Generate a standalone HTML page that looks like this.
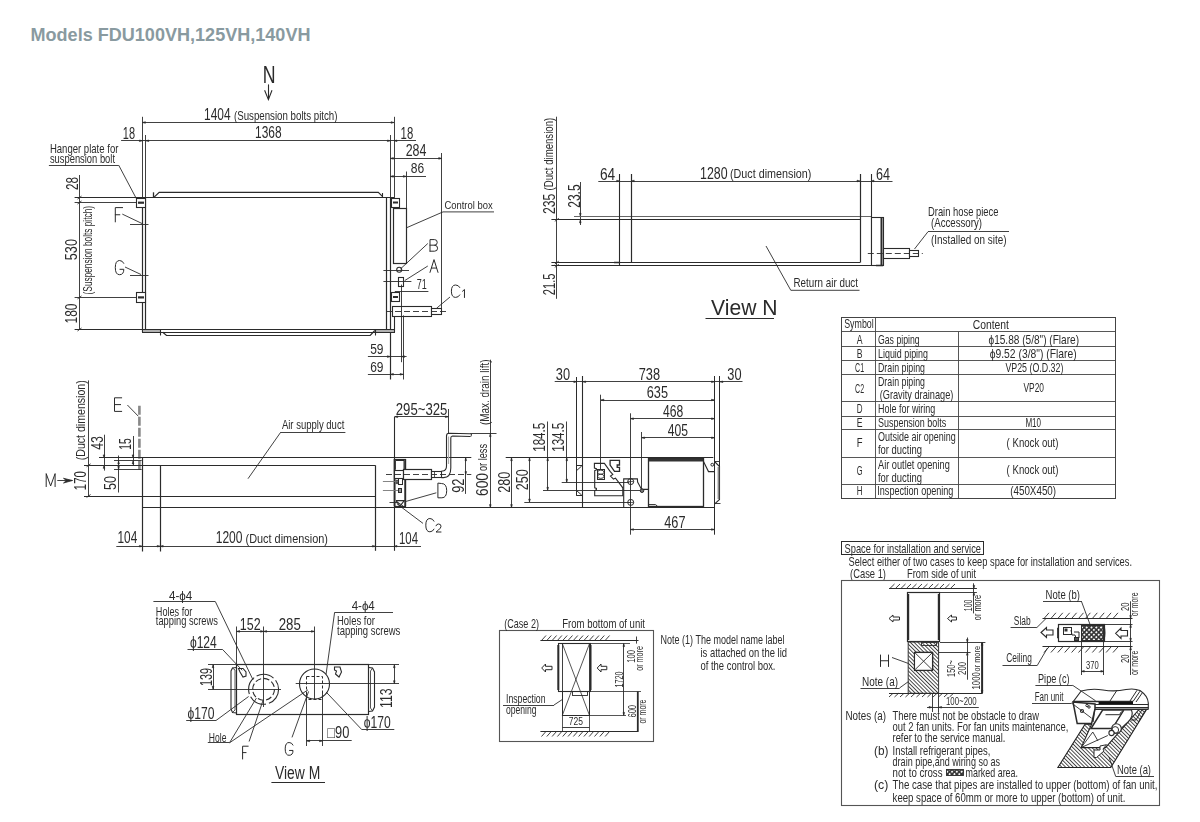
<!DOCTYPE html>
<html><head><meta charset="utf-8"><style>
html,body{margin:0;padding:0;background:#fff;width:1200px;height:822px;overflow:hidden}
svg{display:block}
.main{filter:grayscale(1)}
.ttl{position:absolute;left:0;top:0}
text{font-family:"Liberation Sans",sans-serif}
</style></head><body>
<svg class="main" width="1200" height="822" viewBox="0 0 1200 822" fill="none">
<rect x="0" y="0" width="1200" height="822" fill="#fff"/>
<text x="262.8" y="82.8" font-size="23" textLength="12.8" lengthAdjust="spacingAndGlyphs" fill="#2b2b2b" text-anchor="start">N</text>
<line x1="268.5" y1="84.4" x2="268.5" y2="99.4" stroke="#2b2b2b" stroke-width="1.1"/>
<polyline points="264.6,90.3 268.4,99.6 272,90.3" stroke="#2b2b2b" stroke-width="1.1" fill="none"/>
<line x1="142.4" y1="122.5" x2="394" y2="122.5" stroke="#2b2b2b" stroke-width="0.9"/>
<polygon points="145.4,121.7 142.4,122.5 145.4,123.3" stroke="#2b2b2b" stroke-width="0.6" fill="#2b2b2b"/>
<polygon points="391.0,121.7 394,122.5 391.0,123.3" stroke="#2b2b2b" stroke-width="0.6" fill="#2b2b2b"/>
<line x1="142.5" y1="116.8" x2="142.5" y2="197.6" stroke="#2b2b2b" stroke-width="0.9"/>
<line x1="394.5" y1="116.8" x2="394.5" y2="198" stroke="#2b2b2b" stroke-width="0.9"/>
<text x="204" y="120" font-size="16" textLength="26.5" lengthAdjust="spacingAndGlyphs" fill="#2b2b2b" text-anchor="start">1404</text>
<text x="234" y="119.5" font-size="12.2" textLength="103.5" lengthAdjust="spacingAndGlyphs" fill="#2b2b2b" text-anchor="start">(Suspension bolts pitch)</text>
<line x1="121.1" y1="140.5" x2="416" y2="140.5" stroke="#2b2b2b" stroke-width="0.9"/>
<polygon points="148.8,140.0 145.8,140.8 148.8,141.60000000000002" stroke="#2b2b2b" stroke-width="0.6" fill="#2b2b2b"/>
<polygon points="387.4,140.0 390.4,140.8 387.4,141.60000000000002" stroke="#2b2b2b" stroke-width="0.6" fill="#2b2b2b"/>
<polygon points="139.4,140.0 142.4,140.8 139.4,141.60000000000002" stroke="#2b2b2b" stroke-width="0.6" fill="#2b2b2b"/>
<polygon points="397.0,140.0 394,140.8 397.0,141.60000000000002" stroke="#2b2b2b" stroke-width="0.6" fill="#2b2b2b"/>
<line x1="145.5" y1="135" x2="145.5" y2="197.6" stroke="#2b2b2b" stroke-width="0.9"/>
<line x1="390.5" y1="135" x2="390.5" y2="197.6" stroke="#2b2b2b" stroke-width="0.9"/>
<text x="122.8" y="138.7" font-size="16" textLength="12.2" lengthAdjust="spacingAndGlyphs" fill="#2b2b2b" text-anchor="start">18</text>
<text x="255" y="138.3" font-size="16" textLength="26.5" lengthAdjust="spacingAndGlyphs" fill="#2b2b2b" text-anchor="start">1368</text>
<text x="400.6" y="138.7" font-size="16" textLength="12.6" lengthAdjust="spacingAndGlyphs" fill="#2b2b2b" text-anchor="start">18</text>
<line x1="390.4" y1="158.5" x2="441.7" y2="158.5" stroke="#2b2b2b" stroke-width="0.9"/>
<polygon points="393.4,157.6 390.4,158.4 393.4,159.20000000000002" stroke="#2b2b2b" stroke-width="0.6" fill="#2b2b2b"/>
<polygon points="438.7,157.6 441.7,158.4 438.7,159.20000000000002" stroke="#2b2b2b" stroke-width="0.6" fill="#2b2b2b"/>
<text x="405.7" y="156.2" font-size="16" textLength="20.7" lengthAdjust="spacingAndGlyphs" fill="#2b2b2b" text-anchor="start">284</text>
<line x1="390.4" y1="176.5" x2="426" y2="176.5" stroke="#2b2b2b" stroke-width="0.9"/>
<polygon points="393.4,175.6 390.4,176.4 393.4,177.20000000000002" stroke="#2b2b2b" stroke-width="0.6" fill="#2b2b2b"/>
<polygon points="403.3,175.6 406.3,176.4 403.3,177.20000000000002" stroke="#2b2b2b" stroke-width="0.6" fill="#2b2b2b"/>
<text x="410.8" y="173" font-size="15" textLength="13.4" lengthAdjust="spacingAndGlyphs" fill="#2b2b2b" text-anchor="start">86</text>
<line x1="406.5" y1="171.5" x2="406.5" y2="208.2" stroke="#2b2b2b" stroke-width="0.9"/>
<line x1="441.5" y1="153" x2="441.5" y2="314" stroke="#2b2b2b" stroke-width="0.9"/>
<line x1="142.5" y1="197.6" x2="142.5" y2="332.3" stroke="#2b2b2b" stroke-width="1.2"/>
<line x1="145.5" y1="197.6" x2="145.5" y2="329.5" stroke="#2b2b2b" stroke-width="1.2"/>
<line x1="74.6" y1="197.5" x2="394" y2="197.5" stroke="#2b2b2b" stroke-width="1.2"/>
<line x1="74.6" y1="202.5" x2="136.4" y2="202.5" stroke="#2b2b2b" stroke-width="0.9"/>
<polyline points="153.6,197.6 159.2,192.4 378.3,192.4 382.4,196.4" stroke="#2b2b2b" stroke-width="1.2" fill="none"/>
<line x1="153.5" y1="192.3" x2="153.5" y2="197.5" stroke="#2b2b2b" stroke-width="1.3"/>
<line x1="382.5" y1="193" x2="382.5" y2="197.5" stroke="#2b2b2b" stroke-width="1.1"/>
<line x1="386.5" y1="197.6" x2="386.5" y2="329.5" stroke="#2b2b2b" stroke-width="1.2"/>
<line x1="390.5" y1="197.6" x2="390.5" y2="379.5" stroke="#2b2b2b" stroke-width="1.2"/>
<line x1="74.6" y1="329.5" x2="394.5" y2="329.5" stroke="#2b2b2b" stroke-width="1.2"/>
<rect x="142.5" y="329.5" width="18.0" height="3.0" stroke="#2b2b2b" stroke-width="1.0" fill="#b0b0b0"/>
<rect x="375.5" y="329.5" width="19.0" height="3.0" stroke="#2b2b2b" stroke-width="1.0" fill="#b0b0b0"/>
<line x1="142.3" y1="332.5" x2="394.5" y2="332.5" stroke="#2b2b2b" stroke-width="1.0"/>
<line x1="394.5" y1="314.8" x2="394.5" y2="332.1" stroke="#2b2b2b" stroke-width="1.1"/>
<line x1="160.5" y1="330" x2="160.5" y2="335.5" stroke="#2b2b2b" stroke-width="1.1"/>
<line x1="375.5" y1="329.8" x2="375.5" y2="335.5" stroke="#2b2b2b" stroke-width="1.1"/>
<polyline points="162.8,332.3 166.5,335.5 370.2,335.5 374.8,330.5" stroke="#2b2b2b" stroke-width="1.2" fill="none"/>
<rect x="136.5" y="198.5" width="9.0" height="9.0" stroke="#2b2b2b" stroke-width="1.1" fill="#fff"/>
<rect x="136.5" y="292.5" width="9.0" height="10.0" stroke="#2b2b2b" stroke-width="1.1" fill="#fff"/>
<rect x="391.5" y="198.5" width="8.0" height="9.0" stroke="#2b2b2b" stroke-width="1.1" fill="#fff"/>
<rect x="391.5" y="292.5" width="8.0" height="9.0" stroke="#2b2b2b" stroke-width="1.1" fill="#fff"/>
<line x1="138" y1="202.7" x2="144" y2="202.7" stroke="#2b2b2b" stroke-width="2.2"/>
<line x1="138" y1="297.4" x2="144" y2="297.4" stroke="#2b2b2b" stroke-width="2.2"/>
<line x1="393" y1="202.5" x2="398" y2="202.5" stroke="#2b2b2b" stroke-width="2.0"/>
<line x1="393" y1="297" x2="398" y2="297" stroke="#2b2b2b" stroke-width="2.0"/>
<line x1="74.6" y1="297.5" x2="136.4" y2="297.5" stroke="#2b2b2b" stroke-width="0.9"/>
<text x="49.9" y="152.6" font-size="12.2" textLength="68.5" lengthAdjust="spacingAndGlyphs" fill="#2b2b2b" text-anchor="start">Hanger plate for</text>
<text x="49.9" y="162.8" font-size="12.2" textLength="65.1" lengthAdjust="spacingAndGlyphs" fill="#2b2b2b" text-anchor="start">suspension bolt</text>
<line x1="48.9" y1="165.5" x2="118.7" y2="165.5" stroke="#2b2b2b" stroke-width="0.9"/>
<line x1="118.7" y1="165.2" x2="136.3" y2="198.5" stroke="#2b2b2b" stroke-width="0.9"/>
<line x1="79.5" y1="175" x2="79.5" y2="329.6" stroke="#2b2b2b" stroke-width="0.9"/>
<line x1="77.5" y1="199.1" x2="81.5" y2="196.1" stroke="#2b2b2b" stroke-width="0.9"/>
<line x1="77.5" y1="204.0" x2="81.5" y2="201.0" stroke="#2b2b2b" stroke-width="0.9"/>
<line x1="77.5" y1="298.9" x2="81.5" y2="295.9" stroke="#2b2b2b" stroke-width="0.9"/>
<line x1="77.5" y1="331.0" x2="81.5" y2="328.0" stroke="#2b2b2b" stroke-width="0.9"/>
<text transform="translate(77.5,190) rotate(-90)" font-size="17" textLength="13.0" lengthAdjust="spacingAndGlyphs" fill="#2b2b2b">28</text>
<text transform="translate(77.3,260.2) rotate(-90)" font-size="17" textLength="21.2" lengthAdjust="spacingAndGlyphs" fill="#2b2b2b">530</text>
<text transform="translate(91.5,294.4) rotate(-90)" font-size="12" textLength="88.4" lengthAdjust="spacingAndGlyphs" fill="#2b2b2b">(Suspension bolts pitch)</text>
<text transform="translate(77.3,323.5) rotate(-90)" font-size="17" textLength="20.0" lengthAdjust="spacingAndGlyphs" fill="#2b2b2b">180</text>
<path d="M 122.60,207.60 H 115.30 V 221.90 M 115.30,214.75 H 119.83" stroke="#2b2b2b" stroke-width="1.0" fill="none" stroke-linecap="round" stroke-linejoin="round"/>
<line x1="122.3" y1="214.1" x2="142" y2="223.5" stroke="#2b2b2b" stroke-width="0.9"/>
<line x1="130" y1="224.5" x2="148.5" y2="224.5" stroke="#2b2b2b" stroke-width="0.9"/>
<path d="M 123.80,263.34 Q 122.52,260.50 119.55,260.50 Q 115.30,260.50 115.30,267.60 Q 115.30,274.70 119.55,274.70 Q 123.80,274.70 123.80,269.30 H 119.97" stroke="#2b2b2b" stroke-width="1.0" fill="none" stroke-linecap="round" stroke-linejoin="round"/>
<line x1="125" y1="267" x2="141" y2="274.5" stroke="#2b2b2b" stroke-width="0.9"/>
<line x1="130" y1="275.5" x2="148.5" y2="275.5" stroke="#2b2b2b" stroke-width="0.9"/>
<rect x="393.5" y="208.5" width="13.0" height="55.0" stroke="#2b2b2b" stroke-width="1.2" fill="#fff"/>
<polyline points="406.7,227.7 443,211.9 494,211.9" stroke="#2b2b2b" stroke-width="0.9" fill="none"/>
<text x="444.4" y="208.8" font-size="11.5" textLength="48.2" lengthAdjust="spacingAndGlyphs" fill="#2b2b2b" text-anchor="start">Control box</text>
<path d="M 430.00,251.20 V 239.60 H 434.56 Q 437.22,239.60 437.22,242.38 Q 437.22,245.17 434.56,245.17 H 430.00 M 434.56,245.17 Q 437.60,245.17 437.60,248.18 Q 437.60,251.20 434.56,251.20 H 430.00" stroke="#2b2b2b" stroke-width="1.0" fill="none" stroke-linecap="round" stroke-linejoin="round"/>
<line x1="427.8" y1="243.5" x2="400.4" y2="269" stroke="#2b2b2b" stroke-width="0.9"/>
<circle cx="399.2" cy="269.8" r="2.5" stroke="#2b2b2b" stroke-width="1.1" fill="none"/>
<line x1="383.4" y1="270.5" x2="409" y2="270.5" stroke="#2b2b2b" stroke-width="0.9"/>
<path d="M 430.00,272.40 L 434.00,259.60 L 438.00,272.40 M 431.44,268.05 L 436.56,268.05" stroke="#2b2b2b" stroke-width="1.0" fill="none" stroke-linecap="round" stroke-linejoin="round"/>
<line x1="427.8" y1="266" x2="404.7" y2="280.6" stroke="#2b2b2b" stroke-width="0.9"/>
<rect x="398.5" y="277.5" width="5.0" height="9.0" stroke="#2b2b2b" stroke-width="1.1" fill="#fff"/>
<line x1="383.4" y1="281.5" x2="411.4" y2="281.5" stroke="#2b2b2b" stroke-width="0.9"/>
<text x="416.8" y="288.5" font-size="15" textLength="10.0" lengthAdjust="spacingAndGlyphs" fill="#2b2b2b" text-anchor="start">71</text>
<line x1="394.8" y1="291.5" x2="428.4" y2="291.5" stroke="#2b2b2b" stroke-width="0.9"/>
<path d="M 459.80,287.48 Q 458.54,285.00 455.60,285.00 Q 451.40,285.00 451.40,291.20 Q 451.40,297.40 455.60,297.40 Q 458.54,297.40 459.80,294.92" stroke="#2b2b2b" stroke-width="1.0" fill="none" stroke-linecap="round" stroke-linejoin="round"/>
<path d="M 462.50,291.26 L 464.46,289.50 V 297.50" stroke="#2b2b2b" stroke-width="1.0" fill="none" stroke-linecap="round" stroke-linejoin="round"/>
<line x1="450" y1="297" x2="436.5" y2="308.3" stroke="#2b2b2b" stroke-width="0.9"/>
<rect x="392.5" y="306.5" width="39.0" height="10.0" stroke="#2b2b2b" stroke-width="1.1" fill="#fff"/>
<rect x="431.5" y="308.5" width="10.0" height="6.0" stroke="#2b2b2b" stroke-width="1.1" fill="#fff"/>
<line x1="386" y1="311.5" x2="446" y2="311.5" stroke="#2b2b2b" stroke-width="0.9" stroke-dasharray="6,3"/>
<line x1="401.5" y1="284.6" x2="401.5" y2="362.2" stroke="#2b2b2b" stroke-width="0.9"/>
<line x1="403.5" y1="315.4" x2="403.5" y2="379.5" stroke="#2b2b2b" stroke-width="0.9"/>
<line x1="367.9" y1="356.5" x2="406.6" y2="356.5" stroke="#2b2b2b" stroke-width="0.9"/>
<polygon points="387.4,355.8 390.4,356.6 387.4,357.40000000000003" stroke="#2b2b2b" stroke-width="0.6" fill="#2b2b2b"/>
<polygon points="404.4,355.8 401.4,356.6 404.4,357.40000000000003" stroke="#2b2b2b" stroke-width="0.6" fill="#2b2b2b"/>
<line x1="367.9" y1="374.5" x2="403.7" y2="374.5" stroke="#2b2b2b" stroke-width="0.9"/>
<polygon points="393.4,373.5 390.4,374.3 393.4,375.1" stroke="#2b2b2b" stroke-width="0.6" fill="#2b2b2b"/>
<polygon points="400.1,373.5 403.1,374.3 400.1,375.1" stroke="#2b2b2b" stroke-width="0.6" fill="#2b2b2b"/>
<text x="370.2" y="354.1" font-size="15" textLength="13.3" lengthAdjust="spacingAndGlyphs" fill="#2b2b2b" text-anchor="start">59</text>
<text x="370.2" y="372" font-size="15" textLength="13.3" lengthAdjust="spacingAndGlyphs" fill="#2b2b2b" text-anchor="start">69</text>
<line x1="556.5" y1="116.7" x2="556.5" y2="298.8" stroke="#2b2b2b" stroke-width="0.9"/>
<line x1="554.8" y1="221.3" x2="558.8" y2="218.3" stroke="#2b2b2b" stroke-width="0.9"/>
<line x1="554.8" y1="264.1" x2="558.8" y2="261.1" stroke="#2b2b2b" stroke-width="0.9"/>
<line x1="554.8" y1="267.3" x2="558.8" y2="264.3" stroke="#2b2b2b" stroke-width="0.9"/>
<text transform="translate(555.3,214) rotate(-90)" font-size="17" textLength="20.3" lengthAdjust="spacingAndGlyphs" fill="#2b2b2b">235</text>
<text transform="translate(553.2,190.5) rotate(-90)" font-size="12" textLength="72.7" lengthAdjust="spacingAndGlyphs" fill="#2b2b2b">(Duct dimension)</text>
<text transform="translate(579.5,207.7) rotate(-90)" font-size="17" textLength="23.3" lengthAdjust="spacingAndGlyphs" fill="#2b2b2b">23.5</text>
<line x1="580.5" y1="182" x2="580.5" y2="225" stroke="#2b2b2b" stroke-width="0.9"/>
<polygon points="579.5,213.3 580.3,216.3 581.0999999999999,213.3" stroke="#2b2b2b" stroke-width="0.6" fill="#2b2b2b"/>
<polygon points="579.5,222.8 580.3,219.8 581.0999999999999,222.8" stroke="#2b2b2b" stroke-width="0.6" fill="#2b2b2b"/>
<text transform="translate(555.3,295.2) rotate(-90)" font-size="17" textLength="21.8" lengthAdjust="spacingAndGlyphs" fill="#2b2b2b">21.5</text>
<line x1="574" y1="216.5" x2="871" y2="216.5" stroke="#666" stroke-width="1.0"/>
<line x1="551.4" y1="219.5" x2="860" y2="219.5" stroke="#2b2b2b" stroke-width="1.2"/>
<line x1="551.4" y1="262.5" x2="860" y2="262.5" stroke="#2b2b2b" stroke-width="1.2"/>
<line x1="551.4" y1="265.5" x2="871" y2="265.5" stroke="#2b2b2b" stroke-width="1.2"/>
<line x1="619.5" y1="174" x2="619.5" y2="265.8" stroke="#2b2b2b" stroke-width="1.1"/>
<line x1="631.5" y1="174" x2="631.5" y2="262.6" stroke="#2b2b2b" stroke-width="1.2"/>
<line x1="860.5" y1="174" x2="860.5" y2="262.6" stroke="#2b2b2b" stroke-width="1.2"/>
<line x1="871.5" y1="174" x2="871.5" y2="266" stroke="#2b2b2b" stroke-width="1.1"/>
<line x1="614" y1="262.5" x2="619.7" y2="262.5" stroke="#2b2b2b" stroke-width="1.5"/>
<line x1="598.3" y1="181.5" x2="892.5" y2="181.5" stroke="#2b2b2b" stroke-width="0.9"/>
<polygon points="616.7,180.2 619.7,181 616.7,181.8" stroke="#2b2b2b" stroke-width="0.6" fill="#2b2b2b"/>
<polygon points="634.2,180.2 631.2,181 634.2,181.8" stroke="#2b2b2b" stroke-width="0.6" fill="#2b2b2b"/>
<polygon points="857.0,180.2 860,181 857.0,181.8" stroke="#2b2b2b" stroke-width="0.6" fill="#2b2b2b"/>
<polygon points="874.0,180.2 871,181 874.0,181.8" stroke="#2b2b2b" stroke-width="0.6" fill="#2b2b2b"/>
<text x="600" y="179.6" font-size="16" textLength="15.2" lengthAdjust="spacingAndGlyphs" fill="#2b2b2b" text-anchor="start">64</text>
<text x="700" y="178.9" font-size="16" textLength="27.5" lengthAdjust="spacingAndGlyphs" fill="#2b2b2b" text-anchor="start">1280</text>
<text x="730" y="178.3" font-size="12.2" textLength="81.4" lengthAdjust="spacingAndGlyphs" fill="#2b2b2b" text-anchor="start">(Duct dimension)</text>
<text x="876" y="179.6" font-size="16" textLength="14.0" lengthAdjust="spacingAndGlyphs" fill="#2b2b2b" text-anchor="start">64</text>
<rect x="871.5" y="217.5" width="12.0" height="48.0" stroke="#2b2b2b" stroke-width="1.1" fill="#fff"/>
<line x1="881.5" y1="218" x2="881.5" y2="265" stroke="#2b2b2b" stroke-width="2.0"/>
<line x1="876" y1="265.5" x2="883" y2="265.5" stroke="#2b2b2b" stroke-width="1.5"/>
<rect x="883.5" y="248.5" width="26.0" height="10.0" stroke="#2b2b2b" stroke-width="1.1" fill="#fff"/>
<rect x="909.5" y="250.5" width="9.0" height="6.0" stroke="#2b2b2b" stroke-width="1.1" fill="#fff"/>
<line x1="867.8" y1="253.5" x2="922.8" y2="253.5" stroke="#2b2b2b" stroke-width="0.9" stroke-dasharray="6,3"/>
<text x="928" y="216" font-size="12.2" textLength="70.4" lengthAdjust="spacingAndGlyphs" fill="#2b2b2b" text-anchor="start">Drain hose piece</text>
<text x="931" y="227.4" font-size="12.2" textLength="51.0" lengthAdjust="spacingAndGlyphs" fill="#2b2b2b" text-anchor="start">(Accessory)</text>
<line x1="928" y1="231.5" x2="1009" y2="231.5" stroke="#2b2b2b" stroke-width="0.9"/>
<line x1="928" y1="231.7" x2="914.5" y2="249" stroke="#2b2b2b" stroke-width="0.9"/>
<text x="931" y="244" font-size="12.2" textLength="75.6" lengthAdjust="spacingAndGlyphs" fill="#2b2b2b" text-anchor="start">(Installed on site)</text>
<polyline points="766,246 790.8,290.3 859.5,290.3" stroke="#2b2b2b" stroke-width="0.9" fill="none"/>
<text x="793.5" y="286.8" font-size="12.2" textLength="64.5" lengthAdjust="spacingAndGlyphs" fill="#2b2b2b" text-anchor="start">Return air duct</text>
<text x="711" y="314.5" font-size="22.5" textLength="66.5" lengthAdjust="spacingAndGlyphs" fill="#2b2b2b" text-anchor="start">View N</text>
<line x1="705.5" y1="318.5" x2="774" y2="318.5" stroke="#2b2b2b" stroke-width="1.2"/>
<rect x="841.5" y="317.5" width="274.0" height="181.0" stroke="#444" stroke-width="1.0" fill="none"/>
<line x1="841.8" y1="331.5" x2="1115.8" y2="331.5" stroke="#444" stroke-width="0.9"/>
<line x1="841.8" y1="346.5" x2="1115.8" y2="346.5" stroke="#444" stroke-width="0.9"/>
<line x1="841.8" y1="360.5" x2="1115.8" y2="360.5" stroke="#444" stroke-width="0.9"/>
<line x1="841.8" y1="374.5" x2="1115.8" y2="374.5" stroke="#444" stroke-width="0.9"/>
<line x1="841.8" y1="401.5" x2="1115.8" y2="401.5" stroke="#444" stroke-width="0.9"/>
<line x1="841.8" y1="416.5" x2="1115.8" y2="416.5" stroke="#444" stroke-width="0.9"/>
<line x1="841.8" y1="429.5" x2="1115.8" y2="429.5" stroke="#444" stroke-width="0.9"/>
<line x1="841.8" y1="457.5" x2="1115.8" y2="457.5" stroke="#444" stroke-width="0.9"/>
<line x1="841.8" y1="484.5" x2="1115.8" y2="484.5" stroke="#444" stroke-width="0.9"/>
<line x1="875.5" y1="317.7" x2="875.5" y2="498.2" stroke="#444" stroke-width="0.9"/>
<line x1="958.5" y1="331.7" x2="958.5" y2="498.2" stroke="#444" stroke-width="0.9"/>
<text x="844.2" y="328.1" font-size="12.2" textLength="29.5" lengthAdjust="spacingAndGlyphs" fill="#2b2b2b" text-anchor="start">Symbol</text>
<text x="972.7" y="329.3" font-size="12.2" textLength="36.3" lengthAdjust="spacingAndGlyphs" fill="#2b2b2b" text-anchor="start">Content</text>
<text x="856.7" y="344.3" font-size="12.2" textLength="5.8" lengthAdjust="spacingAndGlyphs" fill="#2b2b2b" text-anchor="start">A</text>
<text x="878" y="344.3" font-size="12.2" textLength="41.6" lengthAdjust="spacingAndGlyphs" fill="#2b2b2b" text-anchor="start">Gas piping</text>
<text x="988.5" y="344.3" font-size="12.2" textLength="90.5" lengthAdjust="spacingAndGlyphs" fill="#2b2b2b" text-anchor="start">ϕ15.88 (5/8") (Flare)</text>
<text x="856.7" y="358.3" font-size="12.2" textLength="5.8" lengthAdjust="spacingAndGlyphs" fill="#2b2b2b" text-anchor="start">B</text>
<text x="878" y="358.3" font-size="12.2" textLength="50.0" lengthAdjust="spacingAndGlyphs" fill="#2b2b2b" text-anchor="start">Liquid piping</text>
<text x="989.7" y="358.3" font-size="12.2" textLength="87.0" lengthAdjust="spacingAndGlyphs" fill="#2b2b2b" text-anchor="start">ϕ9.52 (3/8") (Flare)</text>
<text x="855.1" y="371.6" font-size="12.2" textLength="9.0" lengthAdjust="spacingAndGlyphs" fill="#2b2b2b" text-anchor="start">C1</text>
<text x="878" y="371.6" font-size="12.2" textLength="47.0" lengthAdjust="spacingAndGlyphs" fill="#2b2b2b" text-anchor="start">Drain piping</text>
<text x="1005.4" y="371.6" font-size="12.2" textLength="58.0" lengthAdjust="spacingAndGlyphs" fill="#2b2b2b" text-anchor="start">VP25 (O.D.32)</text>
<text x="855.1" y="393.4" font-size="12.2" textLength="9.0" lengthAdjust="spacingAndGlyphs" fill="#2b2b2b" text-anchor="start">C2</text>
<text x="878" y="386.1" font-size="12.2" textLength="47.0" lengthAdjust="spacingAndGlyphs" fill="#2b2b2b" text-anchor="start">Drain piping</text>
<text x="879.7" y="399.4" font-size="12.2" textLength="73.7" lengthAdjust="spacingAndGlyphs" fill="#2b2b2b" text-anchor="start">(Gravity drainage)</text>
<text x="1023.5" y="392.2" font-size="12.2" textLength="20.5" lengthAdjust="spacingAndGlyphs" fill="#2b2b2b" text-anchor="start">VP20</text>
<text x="856.7" y="413.1" font-size="12.2" textLength="5.8" lengthAdjust="spacingAndGlyphs" fill="#2b2b2b" text-anchor="start">D</text>
<text x="878" y="413.1" font-size="12.2" textLength="57.3" lengthAdjust="spacingAndGlyphs" fill="#2b2b2b" text-anchor="start">Hole for wiring</text>
<text x="856.7" y="427.1" font-size="12.2" textLength="5.8" lengthAdjust="spacingAndGlyphs" fill="#2b2b2b" text-anchor="start">E</text>
<text x="878" y="427.1" font-size="12.2" textLength="68.2" lengthAdjust="spacingAndGlyphs" fill="#2b2b2b" text-anchor="start">Suspension bolts</text>
<text x="1025.4" y="427.1" font-size="12.2" textLength="15.7" lengthAdjust="spacingAndGlyphs" fill="#2b2b2b" text-anchor="start">M10</text>
<text x="856.7" y="447" font-size="12.2" textLength="5.8" lengthAdjust="spacingAndGlyphs" fill="#2b2b2b" text-anchor="start">F</text>
<text x="878" y="440.9" font-size="12.2" textLength="77.8" lengthAdjust="spacingAndGlyphs" fill="#2b2b2b" text-anchor="start">Outside air opening</text>
<text x="878" y="454.2" font-size="12.2" textLength="44.0" lengthAdjust="spacingAndGlyphs" fill="#2b2b2b" text-anchor="start">for ducting</text>
<text x="1006.6" y="447" font-size="12.2" textLength="51.9" lengthAdjust="spacingAndGlyphs" fill="#2b2b2b" text-anchor="start">( Knock out)</text>
<text x="856.7" y="474.7" font-size="12.2" textLength="5.8" lengthAdjust="spacingAndGlyphs" fill="#2b2b2b" text-anchor="start">G</text>
<text x="878" y="468.7" font-size="12.2" textLength="71.8" lengthAdjust="spacingAndGlyphs" fill="#2b2b2b" text-anchor="start">Air outlet opening</text>
<text x="878" y="481.5" font-size="12.2" textLength="44.0" lengthAdjust="spacingAndGlyphs" fill="#2b2b2b" text-anchor="start">for ducting</text>
<text x="1006.6" y="474.3" font-size="12.2" textLength="51.9" lengthAdjust="spacingAndGlyphs" fill="#2b2b2b" text-anchor="start">( Knock out)</text>
<text x="856.7" y="495.3" font-size="12.2" textLength="5.8" lengthAdjust="spacingAndGlyphs" fill="#2b2b2b" text-anchor="start">H</text>
<text x="877.3" y="495.3" font-size="12.2" textLength="76.1" lengthAdjust="spacingAndGlyphs" fill="#2b2b2b" text-anchor="start">Inspection opening</text>
<text x="1010.2" y="494.6" font-size="12.2" textLength="45.9" lengthAdjust="spacingAndGlyphs" fill="#2b2b2b" text-anchor="start">(450X450)</text>
<line x1="88.5" y1="380.4" x2="88.5" y2="496" stroke="#2b2b2b" stroke-width="0.9"/>
<line x1="86.6" y1="466.8" x2="90.6" y2="463.8" stroke="#2b2b2b" stroke-width="0.9"/>
<line x1="86.6" y1="497.5" x2="90.6" y2="494.5" stroke="#2b2b2b" stroke-width="0.9"/>
<text transform="translate(85.3,460.2) rotate(-90)" font-size="12" textLength="79.9" lengthAdjust="spacingAndGlyphs" fill="#2b2b2b">(Duct dimension)</text>
<text transform="translate(86,490.2) rotate(-90)" font-size="17" textLength="19.0" lengthAdjust="spacingAndGlyphs" fill="#2b2b2b">170</text>
<text transform="translate(103,449.8) rotate(-90)" font-size="17" textLength="13.8" lengthAdjust="spacingAndGlyphs" fill="#2b2b2b">43</text>
<line x1="104.5" y1="434.7" x2="104.5" y2="470.6" stroke="#2b2b2b" stroke-width="0.9"/>
<polygon points="103.2,454.9 104,457.9 104.8,454.9" stroke="#2b2b2b" stroke-width="0.6" fill="#2b2b2b"/>
<polygon points="103.2,468.3 104,465.3 104.8,468.3" stroke="#2b2b2b" stroke-width="0.6" fill="#2b2b2b"/>
<text transform="translate(131,449.8) rotate(-90)" font-size="17" textLength="11.5" lengthAdjust="spacingAndGlyphs" fill="#2b2b2b">15</text>
<line x1="133.5" y1="436" x2="133.5" y2="466" stroke="#2b2b2b" stroke-width="0.9"/>
<polygon points="132.2,454.9 133,457.9 133.8,454.9" stroke="#2b2b2b" stroke-width="0.6" fill="#2b2b2b"/>
<polygon points="132.2,463.9 133,460.9 133.8,463.9" stroke="#2b2b2b" stroke-width="0.6" fill="#2b2b2b"/>
<text transform="translate(116,490) rotate(-90)" font-size="17" textLength="14.0" lengthAdjust="spacingAndGlyphs" fill="#2b2b2b">50</text>
<line x1="118.5" y1="455.5" x2="118.5" y2="492.5" stroke="#2b2b2b" stroke-width="0.9"/>
<polygon points="117.8,463.9 118.6,460.9 119.39999999999999,463.9" stroke="#2b2b2b" stroke-width="0.6" fill="#2b2b2b"/>
<polygon points="117.8,466.4 118.6,469.4 119.39999999999999,466.4" stroke="#2b2b2b" stroke-width="0.6" fill="#2b2b2b"/>
<path d="M 121.70,397.80 H 114.50 V 411.40 H 121.70 M 114.50,404.60 H 120.62" stroke="#2b2b2b" stroke-width="1.0" fill="none" stroke-linecap="round" stroke-linejoin="round"/>
<line x1="127.4" y1="405" x2="138.3" y2="416.2" stroke="#2b2b2b" stroke-width="0.9"/>
<line x1="139.4" y1="405.8" x2="139.4" y2="469.4" stroke="#888" stroke-width="2.6" stroke-dasharray="9,2"/>
<line x1="99" y1="457.5" x2="471.3" y2="457.5" stroke="#2b2b2b" stroke-width="1.2"/>
<line x1="114" y1="460.5" x2="141.7" y2="460.5" stroke="#2b2b2b" stroke-width="0.9"/>
<line x1="84" y1="465.5" x2="375.4" y2="465.5" stroke="#2b2b2b" stroke-width="1.2"/>
<line x1="114" y1="469.5" x2="141.7" y2="469.5" stroke="#2b2b2b" stroke-width="0.9"/>
<line x1="84" y1="496.5" x2="375.4" y2="496.5" stroke="#2b2b2b" stroke-width="1.2"/>
<line x1="142.4" y1="507.5" x2="714.5" y2="507.5" stroke="#2b2b2b" stroke-width="1.2"/>
<line x1="142.5" y1="457.9" x2="142.5" y2="551.5" stroke="#2b2b2b" stroke-width="1.2"/>
<line x1="160.5" y1="465.3" x2="160.5" y2="551.5" stroke="#2b2b2b" stroke-width="1.2"/>
<line x1="375.5" y1="465.3" x2="375.5" y2="550.8" stroke="#2b2b2b" stroke-width="1.2"/>
<line x1="394.5" y1="416.8" x2="394.5" y2="550.8" stroke="#2b2b2b" stroke-width="1.1"/>
<path d="M 46.20,486.60 V 473.60 L 50.65,485.95 L 55.10,473.60 V 486.60" stroke="#2b2b2b" stroke-width="1.0" fill="none" stroke-linecap="round" stroke-linejoin="round"/>
<line x1="57.3" y1="480.5" x2="72.4" y2="480.5" stroke="#2b2b2b" stroke-width="0.9"/>
<polygon points="63.5,478.3 72.5,480.5 63.5,483 66.5,480.5" stroke="#2b2b2b" stroke-width="0.8" fill="#2b2b2b"/>
<text x="117.5" y="543.4" font-size="16" textLength="19.7" lengthAdjust="spacingAndGlyphs" fill="#2b2b2b" text-anchor="start">104</text>
<line x1="116.3" y1="546.5" x2="160.2" y2="546.5" stroke="#2b2b2b" stroke-width="0.9"/>
<polygon points="139.4,545.4000000000001 142.4,546.2 139.4,547.0" stroke="#2b2b2b" stroke-width="0.6" fill="#2b2b2b"/>
<polygon points="163.2,545.4000000000001 160.2,546.2 163.2,547.0" stroke="#2b2b2b" stroke-width="0.6" fill="#2b2b2b"/>
<text x="215.7" y="543.4" font-size="16" textLength="26.8" lengthAdjust="spacingAndGlyphs" fill="#2b2b2b" text-anchor="start">1200</text>
<text x="245.5" y="543" font-size="12.2" textLength="82.5" lengthAdjust="spacingAndGlyphs" fill="#2b2b2b" text-anchor="start">(Duct dimension)</text>
<line x1="160.2" y1="546.5" x2="421" y2="546.5" stroke="#2b2b2b" stroke-width="0.9"/>
<polygon points="157.2,545.4000000000001 160.2,546.2 157.2,547.0" stroke="#2b2b2b" stroke-width="0.6" fill="#2b2b2b"/>
<polygon points="372.4,545.4000000000001 375.4,546.2 372.4,547.0" stroke="#2b2b2b" stroke-width="0.6" fill="#2b2b2b"/>
<polygon points="397.0,545.4000000000001 394,546.2 397.0,547.0" stroke="#2b2b2b" stroke-width="0.6" fill="#2b2b2b"/>
<text x="399" y="543.8" font-size="16" textLength="19.0" lengthAdjust="spacingAndGlyphs" fill="#2b2b2b" text-anchor="start">104</text>
<text x="281.9" y="429.3" font-size="12.2" textLength="62.4" lengthAdjust="spacingAndGlyphs" fill="#2b2b2b" text-anchor="start">Air supply duct</text>
<line x1="280.8" y1="432.5" x2="345.4" y2="432.5" stroke="#2b2b2b" stroke-width="0.9"/>
<line x1="280.8" y1="432.1" x2="248" y2="478.7" stroke="#2b2b2b" stroke-width="0.9"/>
<rect x="394.5" y="459.5" width="11.0" height="47.0" stroke="#2b2b2b" stroke-width="1.2" fill="#fff"/>
<line x1="394.6" y1="459" x2="394.6" y2="506" stroke="#2b2b2b" stroke-width="1.8"/>
<line x1="405.2" y1="459" x2="405.2" y2="506" stroke="#2b2b2b" stroke-width="1.8"/>
<polyline points="395.5,460.5 404,460.5 404,469.5" stroke="#2b2b2b" stroke-width="1.0" fill="none"/>
<line x1="395.5" y1="460.5" x2="395.5" y2="469.5" stroke="#2b2b2b" stroke-width="0.8"/>
<rect x="394.5" y="470.5" width="9.0" height="8.0" stroke="#2b2b2b" stroke-width="1.1" fill="#fff"/>
<rect x="395.5" y="479.8" width="2.8000000000000114" height="4.300000000000011" stroke="#2b2b2b" stroke-width="0" fill="#555"/>
<rect x="398.5" y="478.5" width="4.0" height="6.0" stroke="#2b2b2b" stroke-width="1.0" fill="none"/>
<rect x="398.5" y="488.5" width="3.0" height="4.0" stroke="#2b2b2b" stroke-width="1.0" fill="#999"/>
<line x1="382.9" y1="481.5" x2="398" y2="481.5" stroke="#777" stroke-width="0.9"/>
<line x1="382.9" y1="490.5" x2="398" y2="490.5" stroke="#777" stroke-width="0.9"/>
<line x1="389.5" y1="502.5" x2="398" y2="502.5" stroke="#2b2b2b" stroke-width="0.9"/>
<polyline points="396,500.6 404.3,500.6 400,506 396,500.6" stroke="#2b2b2b" stroke-width="1.1" fill="none"/>
<line x1="397.5" y1="502" x2="403" y2="506" stroke="#2b2b2b" stroke-width="0.9"/>
<rect x="403.5" y="469.5" width="28.0" height="10.0" stroke="#2b2b2b" stroke-width="1.2" fill="#fff"/>
<rect x="431.5" y="471.5" width="10.0" height="6.0" stroke="#2b2b2b" stroke-width="1.1" fill="#fff"/>
<line x1="434.5" y1="471" x2="434.5" y2="477.6" stroke="#2b2b2b" stroke-width="0.8"/>
<path d="M441.5,471 L443,471 Q446.5,470.5 446.5,466 L446.5,436 Q446.5,433.2 449,433.2 L470,433.8" stroke="#2b2b2b" stroke-width="1.1" fill="none"/>
<path d="M441.5,477.6 L443.5,477.6 Q450.8,477.6 450.8,468 L450.8,438 Q450.8,436 452.5,436 L470,436.5" stroke="#2b2b2b" stroke-width="1.1" fill="none"/>
<line x1="448.5" y1="436.5" x2="448.5" y2="464" stroke="#aaa" stroke-width="1.2"/>
<line x1="470" y1="433.6" x2="472" y2="434.8" stroke="#2b2b2b" stroke-width="0.9"/>
<line x1="470" y1="436.5" x2="472" y2="435.5" stroke="#2b2b2b" stroke-width="0.9"/>
<line x1="386" y1="474.5" x2="471.3" y2="474.5" stroke="#2b2b2b" stroke-width="0.9" stroke-dasharray="6,3"/>
<text x="395.8" y="415" font-size="16" textLength="51.6" lengthAdjust="spacingAndGlyphs" fill="#2b2b2b" text-anchor="start">295~325</text>
<line x1="394.7" y1="416.5" x2="448.3" y2="416.5" stroke="#2b2b2b" stroke-width="0.9"/>
<polygon points="397.7,416.0 394.7,416.8 397.7,417.6" stroke="#2b2b2b" stroke-width="0.6" fill="#2b2b2b"/>
<polygon points="445.3,416.0 448.3,416.8 445.3,417.6" stroke="#2b2b2b" stroke-width="0.6" fill="#2b2b2b"/>
<line x1="448.5" y1="409" x2="448.5" y2="434" stroke="#2b2b2b" stroke-width="0.9"/>
<text transform="translate(464,492.8) rotate(-90)" font-size="17" textLength="14.3" lengthAdjust="spacingAndGlyphs" fill="#2b2b2b">92</text>
<line x1="465.5" y1="457.7" x2="465.5" y2="493.9" stroke="#2b2b2b" stroke-width="0.9"/>
<polygon points="465.0,460.7 465.8,457.7 466.6,460.7" stroke="#2b2b2b" stroke-width="0.6" fill="#2b2b2b"/>
<polygon points="465.0,471.6 465.8,474.6 466.6,471.6" stroke="#2b2b2b" stroke-width="0.6" fill="#2b2b2b"/>
<path d="M 437.90,483.50 V 497.80 H 441.86 Q 446.70,497.80 446.70,490.65 Q 446.70,483.50 441.86,483.50 Z" stroke="#2b2b2b" stroke-width="1.0" fill="none" stroke-linecap="round" stroke-linejoin="round"/>
<line x1="436.3" y1="492.8" x2="405.6" y2="501.5" stroke="#2b2b2b" stroke-width="0.9"/>
<path d="M 434.00,521.16 Q 432.77,518.50 429.90,518.50 Q 425.80,518.50 425.80,525.15 Q 425.80,531.80 429.90,531.80 Q 432.77,531.80 434.00,529.14" stroke="#2b2b2b" stroke-width="1.0" fill="none" stroke-linecap="round" stroke-linejoin="round"/>
<path d="M 436.00,525.76 Q 436.50,524.00 438.50,524.00 Q 441.00,524.00 441.00,526.24 Q 441.00,528.00 438.50,530.00 L 436.00,532.00 H 441.00" stroke="#2b2b2b" stroke-width="1.0" fill="none" stroke-linecap="round" stroke-linejoin="round"/>
<line x1="423" y1="523.4" x2="396.8" y2="503.7" stroke="#2b2b2b" stroke-width="0.9"/>
<text transform="translate(488,496) rotate(-90)" font-size="17" textLength="23.0" lengthAdjust="spacingAndGlyphs" fill="#2b2b2b">600</text>
<text transform="translate(486.5,471) rotate(-90)" font-size="12" textLength="27.0" lengthAdjust="spacingAndGlyphs" fill="#2b2b2b">or less</text>
<text transform="translate(488.5,425) rotate(-90)" font-size="12" textLength="65.5" lengthAdjust="spacingAndGlyphs" fill="#2b2b2b">(Max. drain lift)</text>
<line x1="490.5" y1="359.7" x2="490.5" y2="507.6" stroke="#2b2b2b" stroke-width="0.9"/>
<polygon points="489.5,436.6 490.3,433.6 491.1,436.6" stroke="#2b2b2b" stroke-width="0.6" fill="#2b2b2b"/>
<polygon points="489.5,504.6 490.3,507.6 491.1,504.6" stroke="#2b2b2b" stroke-width="0.6" fill="#2b2b2b"/>
<line x1="470.2" y1="433.5" x2="496.5" y2="433.5" stroke="#2b2b2b" stroke-width="0.9"/>
<line x1="554.7" y1="381.5" x2="742.5" y2="381.5" stroke="#2b2b2b" stroke-width="0.9"/>
<polygon points="573.8,381.0 576.8,381.8 573.8,382.6" stroke="#2b2b2b" stroke-width="0.6" fill="#2b2b2b"/>
<polygon points="585.7,381.0 582.7,381.8 585.7,382.6" stroke="#2b2b2b" stroke-width="0.6" fill="#2b2b2b"/>
<polygon points="711.5,381.0 714.5,381.8 711.5,382.6" stroke="#2b2b2b" stroke-width="0.6" fill="#2b2b2b"/>
<polygon points="722.9,381.0 719.9,381.8 722.9,382.6" stroke="#2b2b2b" stroke-width="0.6" fill="#2b2b2b"/>
<text x="555.8" y="379.5" font-size="16" textLength="14.2" lengthAdjust="spacingAndGlyphs" fill="#2b2b2b" text-anchor="start">30</text>
<text x="638.7" y="379.5" font-size="16" textLength="21.3" lengthAdjust="spacingAndGlyphs" fill="#2b2b2b" text-anchor="start">738</text>
<text x="727.3" y="379.5" font-size="16" textLength="14.2" lengthAdjust="spacingAndGlyphs" fill="#2b2b2b" text-anchor="start">30</text>
<line x1="576.5" y1="377" x2="576.5" y2="495.8" stroke="#2b2b2b" stroke-width="1.0"/>
<line x1="582.5" y1="376" x2="582.5" y2="507.6" stroke="#2b2b2b" stroke-width="1.1"/>
<line x1="714.5" y1="376" x2="714.5" y2="534.7" stroke="#2b2b2b" stroke-width="1.0"/>
<line x1="719.5" y1="376" x2="719.5" y2="500" stroke="#2b2b2b" stroke-width="1.0"/>
<line x1="600.9" y1="400.5" x2="714.5" y2="400.5" stroke="#2b2b2b" stroke-width="0.9"/>
<polygon points="603.9,399.2 600.9,400 603.9,400.8" stroke="#2b2b2b" stroke-width="0.6" fill="#2b2b2b"/>
<polygon points="711.5,399.2 714.5,400 711.5,400.8" stroke="#2b2b2b" stroke-width="0.6" fill="#2b2b2b"/>
<text x="646.8" y="398.2" font-size="16" textLength="21.2" lengthAdjust="spacingAndGlyphs" fill="#2b2b2b" text-anchor="start">635</text>
<line x1="600.5" y1="394.7" x2="600.5" y2="470" stroke="#2b2b2b" stroke-width="0.9"/>
<line x1="630.5" y1="418.5" x2="714.5" y2="418.5" stroke="#2b2b2b" stroke-width="0.9"/>
<polygon points="633.5,417.9 630.5,418.7 633.5,419.5" stroke="#2b2b2b" stroke-width="0.6" fill="#2b2b2b"/>
<polygon points="711.5,417.9 714.5,418.7 711.5,419.5" stroke="#2b2b2b" stroke-width="0.6" fill="#2b2b2b"/>
<text x="663" y="416.8" font-size="16" textLength="20.2" lengthAdjust="spacingAndGlyphs" fill="#2b2b2b" text-anchor="start">468</text>
<line x1="630.5" y1="413.3" x2="630.5" y2="534.7" stroke="#2b2b2b" stroke-width="0.9"/>
<line x1="641.7" y1="437.5" x2="714.5" y2="437.5" stroke="#2b2b2b" stroke-width="0.9"/>
<polygon points="644.7,437.0 641.7,437.8 644.7,438.6" stroke="#2b2b2b" stroke-width="0.6" fill="#2b2b2b"/>
<polygon points="711.5,437.0 714.5,437.8 711.5,438.6" stroke="#2b2b2b" stroke-width="0.6" fill="#2b2b2b"/>
<text x="667.8" y="435.5" font-size="16" textLength="20.2" lengthAdjust="spacingAndGlyphs" fill="#2b2b2b" text-anchor="start">405</text>
<line x1="641.5" y1="432" x2="641.5" y2="490.5" stroke="#2b2b2b" stroke-width="0.9"/>
<line x1="505.7" y1="457.5" x2="713.3" y2="457.5" stroke="#2b2b2b" stroke-width="1.1"/>
<text transform="translate(545,451.8) rotate(-90)" font-size="17" textLength="29.0" lengthAdjust="spacingAndGlyphs" fill="#2b2b2b">184.5</text>
<line x1="547.5" y1="421.5" x2="547.5" y2="490.3" stroke="#2b2b2b" stroke-width="0.9"/>
<polygon points="546.9000000000001,460.7 547.7,457.7 548.5,460.7" stroke="#2b2b2b" stroke-width="0.6" fill="#2b2b2b"/>
<polygon points="546.9000000000001,487.3 547.7,490.3 548.5,487.3" stroke="#2b2b2b" stroke-width="0.6" fill="#2b2b2b"/>
<text transform="translate(563.5,451.8) rotate(-90)" font-size="17" textLength="29.0" lengthAdjust="spacingAndGlyphs" fill="#2b2b2b">134.5</text>
<line x1="566.5" y1="421.5" x2="566.5" y2="482.2" stroke="#2b2b2b" stroke-width="0.9"/>
<polygon points="566.0,460.7 566.8,457.7 567.5999999999999,460.7" stroke="#2b2b2b" stroke-width="0.6" fill="#2b2b2b"/>
<polygon points="566.0,479.2 566.8,482.2 567.5999999999999,479.2" stroke="#2b2b2b" stroke-width="0.6" fill="#2b2b2b"/>
<text transform="translate(527.5,490.3) rotate(-90)" font-size="17" textLength="21.0" lengthAdjust="spacingAndGlyphs" fill="#2b2b2b">250</text>
<line x1="529.5" y1="457.7" x2="529.5" y2="502" stroke="#2b2b2b" stroke-width="0.9"/>
<polygon points="528.7,460.7 529.5,457.7 530.3,460.7" stroke="#2b2b2b" stroke-width="0.6" fill="#2b2b2b"/>
<polygon points="528.7,499.0 529.5,502 530.3,499.0" stroke="#2b2b2b" stroke-width="0.6" fill="#2b2b2b"/>
<text transform="translate(510,492.7) rotate(-90)" font-size="17" textLength="21.0" lengthAdjust="spacingAndGlyphs" fill="#2b2b2b">280</text>
<line x1="511.5" y1="457.7" x2="511.5" y2="507.6" stroke="#2b2b2b" stroke-width="0.9"/>
<polygon points="510.7,460.7 511.5,457.7 512.3,460.7" stroke="#2b2b2b" stroke-width="0.6" fill="#2b2b2b"/>
<polygon points="510.7,504.6 511.5,507.6 512.3,504.6" stroke="#2b2b2b" stroke-width="0.6" fill="#2b2b2b"/>
<line x1="561.7" y1="482.5" x2="629.3" y2="482.5" stroke="#2b2b2b" stroke-width="0.9"/>
<line x1="543" y1="490.5" x2="643.3" y2="490.5" stroke="#2b2b2b" stroke-width="0.9"/>
<line x1="524.3" y1="502.5" x2="630.5" y2="502.5" stroke="#2b2b2b" stroke-width="0.9"/>
<text x="664.3" y="527.7" font-size="16" textLength="21.2" lengthAdjust="spacingAndGlyphs" fill="#2b2b2b" text-anchor="start">467</text>
<line x1="630.5" y1="529.5" x2="714.5" y2="529.5" stroke="#2b2b2b" stroke-width="0.9"/>
<polygon points="633.5,528.7 630.5,529.5 633.5,530.3" stroke="#2b2b2b" stroke-width="0.6" fill="#2b2b2b"/>
<polygon points="711.5,528.7 714.5,529.5 711.5,530.3" stroke="#2b2b2b" stroke-width="0.6" fill="#2b2b2b"/>
<line x1="576.5" y1="465.5" x2="582" y2="465.5" stroke="#2b2b2b" stroke-width="1.0"/>
<line x1="576.5" y1="470.7" x2="581.7" y2="466" stroke="#2b2b2b" stroke-width="1.0"/>
<line x1="576.5" y1="490.5" x2="581.7" y2="495.1" stroke="#2b2b2b" stroke-width="1.0"/>
<line x1="576.5" y1="495.5" x2="582" y2="495.5" stroke="#2b2b2b" stroke-width="1.0"/>
<polygon points="594.4,463.4 604.4,463.4 610.1,471.4 612.8,474.4 610.5,476.1 613.5,479.1 615.5,478.1 622.8,487.8 622.8,495.8 594.7,495.8 594.7,490.5 596.4,489.8 596.4,488.4 594.7,487.8 594.7,470.7 596.4,470 596.4,468.7 594.4,468" stroke="#2b2b2b" stroke-width="1.1" fill="none"/>
<polygon points="610.1,460.4 619.5,460.4 619.5,465 617.2,465 617.2,467.4 619.5,467.4 619.5,471.4 614.5,471.4 610.1,465" stroke="#2b2b2b" stroke-width="1.3" fill="none"/>
<rect x="597.5" y="469.5" width="7.0" height="10.0" stroke="#2b2b2b" stroke-width="1.0" fill="none"/>
<ellipse cx="600.8" cy="472.2" rx="3.2" ry="2.1" stroke="#2b2b2b" stroke-width="0.9"/><ellipse cx="600.8" cy="476.3" rx="3.2" ry="2.1" stroke="#2b2b2b" stroke-width="0.9"/>
<polyline points="623.7,507.6 623.7,478.9 637.4,478.9 637.6,482 639.5,485.5 641.1,488.5 643,489.4 648,489.4" stroke="#2b2b2b" stroke-width="1.1" fill="none"/>
<circle cx="630.7" cy="481.6" r="3" stroke="#2b2b2b" stroke-width="1.0" fill="none"/>
<line x1="627.7" y1="481.5" x2="633.7" y2="481.5" stroke="#2b2b2b" stroke-width="0.7"/>
<line x1="630.5" y1="478.6" x2="630.5" y2="484.6" stroke="#2b2b2b" stroke-width="0.7"/>
<circle cx="630.7" cy="502.4" r="3" stroke="#2b2b2b" stroke-width="1.0" fill="none"/>
<line x1="627.7" y1="502.5" x2="633.7" y2="502.5" stroke="#2b2b2b" stroke-width="0.7"/>
<line x1="630.5" y1="499.4" x2="630.5" y2="505.4" stroke="#2b2b2b" stroke-width="0.7"/>
<circle cx="642" cy="490.7" r="1.8" stroke="#2b2b2b" stroke-width="1.0" fill="#777"/>
<rect x="648.5" y="458.5" width="55.0" height="48.0" stroke="#2b2b2b" stroke-width="1.3" fill="none"/>
<line x1="648.6" y1="460" x2="703.2" y2="460" stroke="#333" stroke-width="2.8"/>
<polyline points="648.5,504.6 655.5,504.6 657.5,506.2" stroke="#2b2b2b" stroke-width="1.0" fill="none"/>
<polyline points="703.5,461.5 708.5,471.6 714.5,471.6" stroke="#2b2b2b" stroke-width="1.1" fill="none"/>
<circle cx="712.3" cy="464.7" r="1.4" stroke="#2b2b2b" stroke-width="1.0" fill="none"/>
<polyline points="714.5,461.5 719.5,466.5 719.5,499.5 714.5,504.1" stroke="#2b2b2b" stroke-width="1.1" fill="none"/>
<line x1="718.4" y1="467" x2="718.4" y2="499" stroke="#888" stroke-width="1.6"/>
<line x1="714.5" y1="461.5" x2="720" y2="461.5" stroke="#2b2b2b" stroke-width="0.9"/>
<line x1="714.5" y1="503.5" x2="720.5" y2="503.5" stroke="#2b2b2b" stroke-width="0.9"/>
<rect x="236.5" y="664.5" width="132.0" height="50.0" stroke="#2b2b2b" stroke-width="1.2" fill="none"/>
<polyline points="236.6,667.5 232.5,668 231,671 231,709 232.5,712.5 236.6,713" stroke="#2b2b2b" stroke-width="1.1" fill="none"/>
<polyline points="232.5,668 235,670 235,710 232.5,712.5" stroke="#2b2b2b" stroke-width="0.8" fill="none"/>
<polyline points="368.7,667.5 372.5,668 374.5,672 374.5,707 372.5,711 368.7,711.5" stroke="#2b2b2b" stroke-width="1.1" fill="none"/>
<polyline points="372.5,668 370.5,671 370.5,708 372.5,711" stroke="#2b2b2b" stroke-width="0.8" fill="none"/>
<circle cx="263.6" cy="689.3" r="15" stroke="#2b2b2b" stroke-width="1.1" fill="none" stroke-dasharray="18,3"/>
<circle cx="263.6" cy="689.3" r="10.9" stroke="#2b2b2b" stroke-width="1.1" fill="none" stroke-dasharray="6,2.5"/>
<circle cx="314.5" cy="684" r="15" stroke="#2b2b2b" stroke-width="1.1" fill="none"/>
<rect x="306.5" y="676.5" width="16.0" height="23.0" stroke="#2b2b2b" stroke-width="1.0" fill="none" stroke-dasharray="3,2"/>
<path d="M238.5,668.5 L243,668.5 L246,672 L246,676 L243,677 L240,672 Z" stroke="#2b2b2b" stroke-width="1.1" fill="none"/>
<path d="M334.5,667 L340,667 L341.5,672 L339,677 L335.5,674 L336.5,671 L334.5,670 Z" stroke="#2b2b2b" stroke-width="1.1" fill="none"/>
<line x1="236.6" y1="631.5" x2="314.4" y2="631.5" stroke="#2b2b2b" stroke-width="0.9"/>
<polygon points="239.6,630.6 236.6,631.4 239.6,632.1999999999999" stroke="#2b2b2b" stroke-width="0.6" fill="#2b2b2b"/>
<polygon points="260.6,630.6 263.6,631.4 260.6,632.1999999999999" stroke="#2b2b2b" stroke-width="0.6" fill="#2b2b2b"/>
<polygon points="266.6,630.6 263.6,631.4 266.6,632.1999999999999" stroke="#2b2b2b" stroke-width="0.6" fill="#2b2b2b"/>
<polygon points="311.4,630.6 314.4,631.4 311.4,632.1999999999999" stroke="#2b2b2b" stroke-width="0.6" fill="#2b2b2b"/>
<line x1="236.5" y1="626.5" x2="236.5" y2="664.7" stroke="#2b2b2b" stroke-width="0.9"/>
<line x1="263.5" y1="626.5" x2="263.5" y2="707" stroke="#2b2b2b" stroke-width="0.9"/>
<line x1="314.5" y1="626.5" x2="314.5" y2="700" stroke="#2b2b2b" stroke-width="0.9"/>
<text x="239.8" y="630" font-size="16" textLength="20.8" lengthAdjust="spacingAndGlyphs" fill="#2b2b2b" text-anchor="start">152</text>
<text x="278.7" y="630" font-size="16" textLength="22.1" lengthAdjust="spacingAndGlyphs" fill="#2b2b2b" text-anchor="start">285</text>
<text x="169" y="599.7" font-size="12.2" textLength="23.3" lengthAdjust="spacingAndGlyphs" fill="#2b2b2b" text-anchor="start">4-ϕ4</text>
<line x1="153.4" y1="601.5" x2="215.4" y2="601.5" stroke="#2b2b2b" stroke-width="0.9"/>
<line x1="215.4" y1="601.7" x2="253.1" y2="680" stroke="#2b2b2b" stroke-width="0.9"/>
<text x="155.8" y="615.5" font-size="12.2" textLength="36.5" lengthAdjust="spacingAndGlyphs" fill="#2b2b2b" text-anchor="start">Holes for</text>
<text x="155.8" y="625.3" font-size="12.2" textLength="62.1" lengthAdjust="spacingAndGlyphs" fill="#2b2b2b" text-anchor="start">tapping screws</text>
<text x="189.9" y="648.4" font-size="16" textLength="26.9" lengthAdjust="spacingAndGlyphs" fill="#2b2b2b" text-anchor="start">ϕ124</text>
<line x1="187.5" y1="649.5" x2="222.7" y2="649.5" stroke="#2b2b2b" stroke-width="0.9"/>
<line x1="222.7" y1="649.6" x2="242.2" y2="670.3" stroke="#2b2b2b" stroke-width="0.9"/>
<text transform="translate(211.8,686) rotate(-90)" font-size="17" textLength="18.1" lengthAdjust="spacingAndGlyphs" fill="#2b2b2b">139</text>
<line x1="213.5" y1="664.7" x2="213.5" y2="689.3" stroke="#2b2b2b" stroke-width="0.9"/>
<polygon points="212.2,667.7 213,664.7 213.8,667.7" stroke="#2b2b2b" stroke-width="0.6" fill="#2b2b2b"/>
<polygon points="212.2,686.3 213,689.3 213.8,686.3" stroke="#2b2b2b" stroke-width="0.6" fill="#2b2b2b"/>
<line x1="208" y1="664.5" x2="236.6" y2="664.5" stroke="#2b2b2b" stroke-width="0.9"/>
<line x1="208" y1="689.5" x2="281" y2="689.5" stroke="#2b2b2b" stroke-width="0.9"/>
<text x="187.4" y="719" font-size="16" textLength="27.0" lengthAdjust="spacingAndGlyphs" fill="#2b2b2b" text-anchor="start">ϕ170</text>
<line x1="186.2" y1="720.5" x2="216" y2="720.5" stroke="#2b2b2b" stroke-width="0.9"/>
<line x1="216" y1="720.5" x2="248.6" y2="696.5" stroke="#2b2b2b" stroke-width="0.9"/>
<text x="208.8" y="741.6" font-size="12.5" textLength="17.6" lengthAdjust="spacingAndGlyphs" fill="#2b2b2b" text-anchor="start">Hole</text>
<line x1="207.8" y1="742.5" x2="229.5" y2="742.5" stroke="#2b2b2b" stroke-width="0.9"/>
<line x1="229.5" y1="742.8" x2="256.4" y2="698.1" stroke="#2b2b2b" stroke-width="0.9"/>
<line x1="229.5" y1="742.8" x2="308" y2="689.8" stroke="#2b2b2b" stroke-width="0.9"/>
<path d="M 248.20,746.20 H 242.60 V 759.00 M 242.60,752.60 H 246.07" stroke="#2b2b2b" stroke-width="1.0" fill="none" stroke-linecap="round" stroke-linejoin="round"/>
<line x1="249.1" y1="741.5" x2="263.1" y2="700.2" stroke="#2b2b2b" stroke-width="0.9"/>
<path d="M 293.00,745.06 Q 291.83,742.50 289.10,742.50 Q 285.20,742.50 285.20,748.90 Q 285.20,755.30 289.10,755.30 Q 293.00,755.30 293.00,750.44 H 289.49" stroke="#2b2b2b" stroke-width="1.0" fill="none" stroke-linecap="round" stroke-linejoin="round"/>
<line x1="292" y1="737.4" x2="308.6" y2="691.4" stroke="#2b2b2b" stroke-width="0.9"/>
<text x="275" y="778.6" font-size="18" textLength="45.3" lengthAdjust="spacingAndGlyphs" fill="#2b2b2b" text-anchor="start">View M</text>
<line x1="271.4" y1="782.5" x2="325" y2="782.5" stroke="#2b2b2b" stroke-width="1.2"/>
<text x="351.7" y="609.5" font-size="12.2" textLength="23.1" lengthAdjust="spacingAndGlyphs" fill="#2b2b2b" text-anchor="start">4-ϕ4</text>
<line x1="334.6" y1="612.5" x2="393" y2="612.5" stroke="#2b2b2b" stroke-width="0.9"/>
<line x1="334.6" y1="612.4" x2="326.1" y2="674" stroke="#2b2b2b" stroke-width="0.9"/>
<text x="337" y="625.3" font-size="12.2" textLength="37.8" lengthAdjust="spacingAndGlyphs" fill="#2b2b2b" text-anchor="start">Holes for</text>
<text x="337" y="635.2" font-size="12.2" textLength="63.3" lengthAdjust="spacingAndGlyphs" fill="#2b2b2b" text-anchor="start">tapping screws</text>
<text transform="translate(391.5,708) rotate(-90)" font-size="17" textLength="19.5" lengthAdjust="spacingAndGlyphs" fill="#2b2b2b">113</text>
<line x1="394.5" y1="664.7" x2="394.5" y2="683.7" stroke="#2b2b2b" stroke-width="0.9"/>
<polygon points="393.5,667.7 394.3,664.7 395.1,667.7" stroke="#2b2b2b" stroke-width="0.6" fill="#2b2b2b"/>
<polygon points="393.5,680.7 394.3,683.7 395.1,680.7" stroke="#2b2b2b" stroke-width="0.6" fill="#2b2b2b"/>
<line x1="368.7" y1="664.5" x2="399" y2="664.5" stroke="#2b2b2b" stroke-width="0.9"/>
<line x1="295.7" y1="683.5" x2="399" y2="683.5" stroke="#2b2b2b" stroke-width="0.9"/>
<text x="363.8" y="727.5" font-size="16" textLength="27.0" lengthAdjust="spacingAndGlyphs" fill="#2b2b2b" text-anchor="start">ϕ170</text>
<line x1="361.4" y1="729.5" x2="394.3" y2="729.5" stroke="#2b2b2b" stroke-width="0.9"/>
<line x1="361.4" y1="729.2" x2="326.1" y2="692" stroke="#2b2b2b" stroke-width="0.9"/>
<text x="327.3" y="738.4" font-size="16" textLength="22.1" lengthAdjust="spacingAndGlyphs" fill="#2b2b2b" text-anchor="start">□90</text>
<line x1="306.7" y1="740.5" x2="351.7" y2="740.5" stroke="#2b2b2b" stroke-width="0.9"/>
<polygon points="309.7,740.1 306.7,740.9 309.7,741.6999999999999" stroke="#2b2b2b" stroke-width="0.6" fill="#2b2b2b"/>
<polygon points="319.5,740.1 322.5,740.9 319.5,741.6999999999999" stroke="#2b2b2b" stroke-width="0.6" fill="#2b2b2b"/>
<line x1="306.5" y1="692" x2="306.5" y2="746" stroke="#2b2b2b" stroke-width="0.9"/>
<line x1="322.5" y1="692" x2="322.5" y2="746" stroke="#2b2b2b" stroke-width="0.9"/>
<rect x="499.5" y="630.5" width="154.0" height="111.0" stroke="#555" stroke-width="1.1" fill="none"/>
<text x="504.2" y="627.8" font-size="12.2" textLength="34.8" lengthAdjust="spacingAndGlyphs" fill="#2b2b2b" text-anchor="start">(Case 2)</text>
<text x="562.3" y="627.8" font-size="12.2" textLength="82.7" lengthAdjust="spacingAndGlyphs" fill="#2b2b2b" text-anchor="start">From bottom of unit</text>
<line x1="540.4" y1="640.5" x2="638.5" y2="640.5" stroke="#2b2b2b" stroke-width="1.0"/>
<line x1="541.5" y1="640.5" x2="546.0" y2="635.5" stroke="#2b2b2b" stroke-width="0.9"/>
<line x1="546.8" y1="640.5" x2="551.3" y2="635.5" stroke="#2b2b2b" stroke-width="0.9"/>
<line x1="552.1" y1="640.5" x2="556.6" y2="635.5" stroke="#2b2b2b" stroke-width="0.9"/>
<line x1="557.4" y1="640.5" x2="561.9" y2="635.5" stroke="#2b2b2b" stroke-width="0.9"/>
<line x1="562.7" y1="640.5" x2="567.2" y2="635.5" stroke="#2b2b2b" stroke-width="0.9"/>
<line x1="568.0" y1="640.5" x2="572.5" y2="635.5" stroke="#2b2b2b" stroke-width="0.9"/>
<line x1="573.3" y1="640.5" x2="577.8" y2="635.5" stroke="#2b2b2b" stroke-width="0.9"/>
<line x1="578.6" y1="640.5" x2="583.1" y2="635.5" stroke="#2b2b2b" stroke-width="0.9"/>
<line x1="583.9" y1="640.5" x2="588.4" y2="635.5" stroke="#2b2b2b" stroke-width="0.9"/>
<line x1="589.2" y1="640.5" x2="593.7" y2="635.5" stroke="#2b2b2b" stroke-width="0.9"/>
<line x1="594.5" y1="640.5" x2="599.0" y2="635.5" stroke="#2b2b2b" stroke-width="0.9"/>
<line x1="599.8" y1="640.5" x2="604.3" y2="635.5" stroke="#2b2b2b" stroke-width="0.9"/>
<line x1="605.1" y1="640.5" x2="609.6" y2="635.5" stroke="#2b2b2b" stroke-width="0.9"/>
<line x1="540.4" y1="731.5" x2="638.5" y2="731.5" stroke="#2b2b2b" stroke-width="1.0"/>
<line x1="541.5" y1="736.5" x2="546.0" y2="731.4" stroke="#2b2b2b" stroke-width="0.9"/>
<line x1="546.8" y1="736.5" x2="551.3" y2="731.4" stroke="#2b2b2b" stroke-width="0.9"/>
<line x1="552.1" y1="736.5" x2="556.6" y2="731.4" stroke="#2b2b2b" stroke-width="0.9"/>
<line x1="557.4" y1="736.5" x2="561.9" y2="731.4" stroke="#2b2b2b" stroke-width="0.9"/>
<line x1="562.7" y1="736.5" x2="567.2" y2="731.4" stroke="#2b2b2b" stroke-width="0.9"/>
<line x1="568.0" y1="736.5" x2="572.5" y2="731.4" stroke="#2b2b2b" stroke-width="0.9"/>
<line x1="573.3" y1="736.5" x2="577.8" y2="731.4" stroke="#2b2b2b" stroke-width="0.9"/>
<line x1="578.6" y1="736.5" x2="583.1" y2="731.4" stroke="#2b2b2b" stroke-width="0.9"/>
<line x1="583.9" y1="736.5" x2="588.4" y2="731.4" stroke="#2b2b2b" stroke-width="0.9"/>
<line x1="589.2" y1="736.5" x2="593.7" y2="731.4" stroke="#2b2b2b" stroke-width="0.9"/>
<line x1="594.5" y1="736.5" x2="599.0" y2="731.4" stroke="#2b2b2b" stroke-width="0.9"/>
<line x1="599.8" y1="736.5" x2="604.3" y2="731.4" stroke="#2b2b2b" stroke-width="0.9"/>
<line x1="605.1" y1="736.5" x2="609.6" y2="731.4" stroke="#2b2b2b" stroke-width="0.9"/>
<rect x="558.5" y="643.5" width="32.0" height="48.0" stroke="#2b2b2b" stroke-width="1.1" fill="none"/>
<line x1="558.3" y1="645" x2="558.3" y2="690" stroke="#2b2b2b" stroke-width="2.0"/>
<line x1="590.6" y1="645" x2="590.6" y2="690" stroke="#2b2b2b" stroke-width="1.8"/>
<line x1="562.5" y1="643.6" x2="562.5" y2="691.2" stroke="#2b2b2b" stroke-width="0.9"/>
<line x1="589.5" y1="643.6" x2="589.5" y2="691.2" stroke="#2b2b2b" stroke-width="0.9"/>
<rect x="562.5" y="691.5" width="27.0" height="24.0" stroke="#2b2b2b" stroke-width="1.0" fill="none"/>
<line x1="562.3" y1="643.6" x2="589.5" y2="715.4" stroke="#2b2b2b" stroke-width="0.8"/>
<line x1="589.5" y1="643.6" x2="562.3" y2="715.4" stroke="#2b2b2b" stroke-width="0.8"/>
<rect x="572.5" y="691.5" width="15.0" height="4.0" stroke="#2b2b2b" stroke-width="0.9" fill="none"/>
<path d="M541.7,668 L545.5,664 L545.5,666.3 L552,666.3 L552,669.7 L545.5,669.7 L545.5,672 Z" stroke="#2b2b2b" stroke-width="1.0" fill="none"/>
<path d="M597.2,668 L601,664 L601,666.3 L606.8,666.3 L606.8,669.7 L601,669.7 L601,672 Z" stroke="#2b2b2b" stroke-width="1.0" fill="none"/>
<text transform="translate(623.2,687.5) rotate(-90)" font-size="11.5" textLength="16.1" lengthAdjust="spacingAndGlyphs" fill="#2b2b2b">1720</text>
<line x1="623.5" y1="643.6" x2="623.5" y2="715.4" stroke="#2b2b2b" stroke-width="0.9"/>
<polygon points="623.0,646.6 623.8,643.6 624.5999999999999,646.6" stroke="#2b2b2b" stroke-width="0.6" fill="#2b2b2b"/>
<polygon points="623.0,712.4 623.8,715.4 624.5999999999999,712.4" stroke="#2b2b2b" stroke-width="0.6" fill="#2b2b2b"/>
<line x1="590.7" y1="643.5" x2="630" y2="643.5" stroke="#2b2b2b" stroke-width="0.8"/>
<line x1="589.5" y1="715.5" x2="626" y2="715.5" stroke="#2b2b2b" stroke-width="0.8"/>
<line x1="589.5" y1="691.5" x2="641" y2="691.5" stroke="#2b2b2b" stroke-width="0.8"/>
<text transform="translate(635,662.8) rotate(-90)" font-size="11.5" textLength="12.8" lengthAdjust="spacingAndGlyphs" fill="#2b2b2b">100</text>
<text transform="translate(643.3,670.8) rotate(-90)" font-size="10" textLength="24.8" lengthAdjust="spacingAndGlyphs" fill="#2b2b2b">or more</text>
<line x1="636.5" y1="636.5" x2="636.5" y2="643.6" stroke="#2b2b2b" stroke-width="0.9"/>
<line x1="637.8" y1="691.4" x2="637.8" y2="731.4" stroke="#2b2b2b" stroke-width="1.8"/>
<text transform="translate(636.3,717.6) rotate(-90)" font-size="11" textLength="12.7" lengthAdjust="spacingAndGlyphs" fill="#2b2b2b">600</text>
<text transform="translate(645.8,723.6) rotate(-90)" font-size="10" textLength="24.1" lengthAdjust="spacingAndGlyphs" fill="#2b2b2b">or more</text>
<text x="568.8" y="725.2" font-size="11" textLength="14.2" lengthAdjust="spacingAndGlyphs" fill="#2b2b2b" text-anchor="start">725</text>
<line x1="562.3" y1="727.5" x2="589.5" y2="727.5" stroke="#2b2b2b" stroke-width="0.9"/>
<line x1="562.5" y1="715.4" x2="562.5" y2="731.4" stroke="#2b2b2b" stroke-width="0.8"/>
<line x1="589.5" y1="715.4" x2="589.5" y2="731.4" stroke="#2b2b2b" stroke-width="0.8"/>
<text x="506" y="703.2" font-size="12.2" textLength="39.5" lengthAdjust="spacingAndGlyphs" fill="#2b2b2b" text-anchor="start">Inspection</text>
<text x="506" y="714.2" font-size="12.2" textLength="30.5" lengthAdjust="spacingAndGlyphs" fill="#2b2b2b" text-anchor="start">opening</text>
<line x1="503" y1="705.5" x2="554" y2="705.5" stroke="#2b2b2b" stroke-width="0.9"/>
<line x1="554" y1="705" x2="562.3" y2="699.5" stroke="#2b2b2b" stroke-width="0.9"/>
<text x="660.5" y="643.9" font-size="12.2" textLength="124.0" lengthAdjust="spacingAndGlyphs" fill="#2b2b2b" text-anchor="start">Note (1) The model name label</text>
<text x="700.5" y="656.8" font-size="12.2" textLength="86.5" lengthAdjust="spacingAndGlyphs" fill="#2b2b2b" text-anchor="start">is attached on the lid</text>
<text x="700.5" y="669.7" font-size="12.2" textLength="75.0" lengthAdjust="spacingAndGlyphs" fill="#2b2b2b" text-anchor="start">of the control box.</text>
<rect x="841.5" y="541.5" width="142.0" height="13.0" stroke="#2b2b2b" stroke-width="1.0" fill="none"/>
<text x="844.5" y="552.5" font-size="12.2" textLength="136.5" lengthAdjust="spacingAndGlyphs" fill="#2b2b2b" text-anchor="start">Space for installation and service</text>
<text x="848.5" y="566.2" font-size="12.2" textLength="283.5" lengthAdjust="spacingAndGlyphs" fill="#2b2b2b" text-anchor="start">Select either of two cases to keep space for installation and services.</text>
<text x="850" y="577.5" font-size="12.2" textLength="36.0" lengthAdjust="spacingAndGlyphs" fill="#2b2b2b" text-anchor="start">(Case 1)</text>
<text x="907" y="577.5" font-size="12.2" textLength="69.0" lengthAdjust="spacingAndGlyphs" fill="#2b2b2b" text-anchor="start">From side of unit</text>
<rect x="841.5" y="580.5" width="318.0" height="225.0" stroke="#555" stroke-width="1.1" fill="none"/>
<line x1="889" y1="588.5" x2="976.9" y2="588.5" stroke="#2b2b2b" stroke-width="1.0"/>
<line x1="890.0" y1="588.4" x2="894.5" y2="584" stroke="#2b2b2b" stroke-width="0.9"/>
<line x1="895.5" y1="588.4" x2="900.0" y2="584" stroke="#2b2b2b" stroke-width="0.9"/>
<line x1="901.0" y1="588.4" x2="905.5" y2="584" stroke="#2b2b2b" stroke-width="0.9"/>
<line x1="906.5" y1="588.4" x2="911.0" y2="584" stroke="#2b2b2b" stroke-width="0.9"/>
<line x1="912.0" y1="588.4" x2="916.5" y2="584" stroke="#2b2b2b" stroke-width="0.9"/>
<line x1="917.5" y1="588.4" x2="922.0" y2="584" stroke="#2b2b2b" stroke-width="0.9"/>
<line x1="923.0" y1="588.4" x2="927.5" y2="584" stroke="#2b2b2b" stroke-width="0.9"/>
<line x1="928.5" y1="588.4" x2="933.0" y2="584" stroke="#2b2b2b" stroke-width="0.9"/>
<line x1="934.0" y1="588.4" x2="938.5" y2="584" stroke="#2b2b2b" stroke-width="0.9"/>
<line x1="939.5" y1="588.4" x2="944.0" y2="584" stroke="#2b2b2b" stroke-width="0.9"/>
<line x1="945.0" y1="588.4" x2="949.5" y2="584" stroke="#2b2b2b" stroke-width="0.9"/>
<line x1="950.5" y1="588.4" x2="955.0" y2="584" stroke="#2b2b2b" stroke-width="0.9"/>
<rect x="907.5" y="592.5" width="32.0" height="49.0" stroke="#2b2b2b" stroke-width="1.2" fill="none"/>
<line x1="908.5" y1="594" x2="908.5" y2="640" stroke="#2b2b2b" stroke-width="1.4"/>
<line x1="938.5" y1="594" x2="938.5" y2="640" stroke="#2b2b2b" stroke-width="1.4"/>
<rect x="921.5" y="642.5" width="15.0" height="3.0" stroke="#2b2b2b" stroke-width="0.9" fill="#fff"/>
<defs><pattern id="hp" patternUnits="userSpaceOnUse" width="2.7" height="2.7" patternTransform="rotate(-45)"><line x1="0.5" y1="0" x2="0.5" y2="2.7" stroke="#333" stroke-width="0.9"/></pattern><pattern id="xp" patternUnits="userSpaceOnUse" width="3.4" height="3.4" patternTransform="rotate(45)"><rect width="3.4" height="3.4" fill="#333"/><circle cx="1.7" cy="1.7" r="1.0" fill="#fff"/></pattern></defs>
<path d="M908.2,642 H938.6 V693.3 H908.2 Z M914.4,652.2 V670.3 H932.8 V652.2 Z" fill="url(#hp)" fill-rule="evenodd" stroke="#333" stroke-width="1"/>
<rect x="914.5" y="652.5" width="18.0" height="18.0" stroke="#2b2b2b" stroke-width="1.1" fill="none"/>
<line x1="914.4" y1="652.2" x2="932.8" y2="670.3" stroke="#2b2b2b" stroke-width="0.9"/>
<line x1="932.8" y1="652.2" x2="914.4" y2="670.3" stroke="#2b2b2b" stroke-width="0.9"/>
<line x1="889" y1="693.5" x2="982.5" y2="693.5" stroke="#2b2b2b" stroke-width="1.0"/>
<line x1="889.0" y1="697" x2="893.0" y2="693.3" stroke="#2b2b2b" stroke-width="0.9"/>
<line x1="894.5" y1="697" x2="898.5" y2="693.3" stroke="#2b2b2b" stroke-width="0.9"/>
<line x1="900.0" y1="697" x2="904.0" y2="693.3" stroke="#2b2b2b" stroke-width="0.9"/>
<line x1="905.5" y1="697" x2="909.5" y2="693.3" stroke="#2b2b2b" stroke-width="0.9"/>
<line x1="911.0" y1="697" x2="915.0" y2="693.3" stroke="#2b2b2b" stroke-width="0.9"/>
<line x1="916.5" y1="697" x2="920.5" y2="693.3" stroke="#2b2b2b" stroke-width="0.9"/>
<line x1="922.0" y1="697" x2="926.0" y2="693.3" stroke="#2b2b2b" stroke-width="0.9"/>
<line x1="927.5" y1="697" x2="931.5" y2="693.3" stroke="#2b2b2b" stroke-width="0.9"/>
<line x1="933.0" y1="697" x2="937.0" y2="693.3" stroke="#2b2b2b" stroke-width="0.9"/>
<line x1="938.5" y1="697" x2="942.5" y2="693.3" stroke="#2b2b2b" stroke-width="0.9"/>
<line x1="944.0" y1="697" x2="948.0" y2="693.3" stroke="#2b2b2b" stroke-width="0.9"/>
<line x1="949.5" y1="697" x2="953.5" y2="693.3" stroke="#2b2b2b" stroke-width="0.9"/>
<path d="M889,618.5 L893,615 L893,617 L899.5,617 L899.5,620 L893,620 L893,622 Z" stroke="#2b2b2b" stroke-width="1.0" fill="none"/>
<path d="M947.5,618.5 L951.5,615 L951.5,617 L956.5,617 L956.5,620 L951.5,620 L951.5,622 Z" stroke="#2b2b2b" stroke-width="1.0" fill="none"/>
<path d="M 880.50,655.00 V 666.50 M 888.50,655.00 V 666.50 M 880.50,660.75 H 888.50" stroke="#2b2b2b" stroke-width="1.0" fill="none" stroke-linecap="round" stroke-linejoin="round"/>
<line x1="892" y1="657.5" x2="908.5" y2="663.5" stroke="#2b2b2b" stroke-width="0.9"/>
<text x="862" y="686" font-size="12.2" textLength="36.0" lengthAdjust="spacingAndGlyphs" fill="#2b2b2b" text-anchor="start">Note (a)</text>
<line x1="860.5" y1="688.5" x2="899.5" y2="688.5" stroke="#2b2b2b" stroke-width="0.9"/>
<line x1="899.5" y1="688" x2="908.5" y2="681.5" stroke="#2b2b2b" stroke-width="0.9"/>
<line x1="940" y1="642.5" x2="985.4" y2="642.5" stroke="#2b2b2b" stroke-width="0.9"/>
<line x1="938.6" y1="652.5" x2="970.6" y2="652.5" stroke="#2b2b2b" stroke-width="0.9"/>
<line x1="939.4" y1="592.5" x2="976.9" y2="592.5" stroke="#2b2b2b" stroke-width="0.9"/>
<line x1="973.5" y1="583.3" x2="973.5" y2="598" stroke="#2b2b2b" stroke-width="0.9"/>
<polygon points="973.1,585.4 973.9,588.4 974.6999999999999,585.4" stroke="#2b2b2b" stroke-width="0.6" fill="#2b2b2b"/>
<polygon points="973.1,595.3 973.9,592.3 974.6999999999999,595.3" stroke="#2b2b2b" stroke-width="0.6" fill="#2b2b2b"/>
<line x1="973.5" y1="598" x2="973.5" y2="613.4" stroke="#2b2b2b" stroke-width="0.9"/>
<text transform="translate(972,611.2) rotate(-90)" font-size="10.8" textLength="11.5" lengthAdjust="spacingAndGlyphs" fill="#2b2b2b">100</text>
<text transform="translate(981.3,620.2) rotate(-90)" font-size="10.5" textLength="25.4" lengthAdjust="spacingAndGlyphs" fill="#2b2b2b">or more</text>
<line x1="967.5" y1="637.5" x2="967.5" y2="655.5" stroke="#2b2b2b" stroke-width="0.9"/>
<polygon points="966.5,639.4 967.3,642.4 968.0999999999999,639.4" stroke="#2b2b2b" stroke-width="0.6" fill="#2b2b2b"/>
<polygon points="966.5,655.2 967.3,652.2 968.0999999999999,655.2" stroke="#2b2b2b" stroke-width="0.6" fill="#2b2b2b"/>
<text transform="translate(954.5,676.9) rotate(-90)" font-size="10.5" textLength="16.6" lengthAdjust="spacingAndGlyphs" fill="#2b2b2b">150~</text>
<text transform="translate(966,674.9) rotate(-90)" font-size="10.5" textLength="13.0" lengthAdjust="spacingAndGlyphs" fill="#2b2b2b">200</text>
<line x1="967.5" y1="655.5" x2="967.5" y2="679.7" stroke="#2b2b2b" stroke-width="0.9"/>
<text transform="translate(979.8,689.5) rotate(-90)" font-size="10.5" textLength="17.3" lengthAdjust="spacingAndGlyphs" fill="#2b2b2b">1000</text>
<text transform="translate(979.6,671.4) rotate(-90)" font-size="9.5" textLength="25.4" lengthAdjust="spacingAndGlyphs" fill="#2b2b2b">or more</text>
<line x1="982.1" y1="642.4" x2="982.1" y2="693.3" stroke="#2b2b2b" stroke-width="2.0"/>
<polygon points="981.3000000000001,645.4 982.1,642.4 982.9,645.4" stroke="#2b2b2b" stroke-width="0.6" fill="#2b2b2b"/>
<polygon points="981.3000000000001,690.3 982.1,693.3 982.9,690.3" stroke="#2b2b2b" stroke-width="0.6" fill="#2b2b2b"/>
<line x1="932.5" y1="693.3" x2="932.5" y2="712" stroke="#2b2b2b" stroke-width="0.9"/>
<line x1="938.5" y1="693.3" x2="938.5" y2="712" stroke="#2b2b2b" stroke-width="0.9"/>
<line x1="927" y1="707.5" x2="978.8" y2="707.5" stroke="#2b2b2b" stroke-width="0.9"/>
<polygon points="929.0,706.5 932,707.3 929.0,708.0999999999999" stroke="#2b2b2b" stroke-width="0.6" fill="#2b2b2b"/>
<polygon points="941.6,706.5 938.6,707.3 941.6,708.0999999999999" stroke="#2b2b2b" stroke-width="0.6" fill="#2b2b2b"/>
<text x="946" y="704.75" font-size="10.8" textLength="30.7" lengthAdjust="spacingAndGlyphs" fill="#2b2b2b" text-anchor="start">100~200</text>
<line x1="1042.5" y1="618.5" x2="1132.5" y2="618.5" stroke="#2b2b2b" stroke-width="1.1"/>
<line x1="1044.0" y1="618.5" x2="1049.0" y2="612.8" stroke="#2b2b2b" stroke-width="0.9"/>
<line x1="1050.9" y1="618.5" x2="1055.9" y2="612.8" stroke="#2b2b2b" stroke-width="0.9"/>
<line x1="1057.8" y1="618.5" x2="1062.8" y2="612.8" stroke="#2b2b2b" stroke-width="0.9"/>
<line x1="1064.7" y1="618.5" x2="1069.7" y2="612.8" stroke="#2b2b2b" stroke-width="0.9"/>
<line x1="1071.6" y1="618.5" x2="1076.6" y2="612.8" stroke="#2b2b2b" stroke-width="0.9"/>
<line x1="1078.5" y1="618.5" x2="1083.5" y2="612.8" stroke="#2b2b2b" stroke-width="0.9"/>
<line x1="1085.4" y1="618.5" x2="1090.4" y2="612.8" stroke="#2b2b2b" stroke-width="0.9"/>
<line x1="1092.3" y1="618.5" x2="1097.3" y2="612.8" stroke="#2b2b2b" stroke-width="0.9"/>
<line x1="1099.2" y1="618.5" x2="1104.2" y2="612.8" stroke="#2b2b2b" stroke-width="0.9"/>
<line x1="1106.1" y1="618.5" x2="1111.1" y2="612.8" stroke="#2b2b2b" stroke-width="0.9"/>
<line x1="1113.0" y1="618.5" x2="1118.0" y2="612.8" stroke="#2b2b2b" stroke-width="0.9"/>
<line x1="1042.5" y1="646.5" x2="1132.5" y2="646.5" stroke="#2b2b2b" stroke-width="1.1"/>
<line x1="1044.0" y1="652.5" x2="1049.0" y2="646.9" stroke="#2b2b2b" stroke-width="0.9"/>
<line x1="1050.9" y1="652.5" x2="1055.9" y2="646.9" stroke="#2b2b2b" stroke-width="0.9"/>
<line x1="1057.8" y1="652.5" x2="1062.8" y2="646.9" stroke="#2b2b2b" stroke-width="0.9"/>
<line x1="1064.7" y1="652.5" x2="1069.7" y2="646.9" stroke="#2b2b2b" stroke-width="0.9"/>
<line x1="1071.6" y1="652.5" x2="1076.6" y2="646.9" stroke="#2b2b2b" stroke-width="0.9"/>
<line x1="1078.5" y1="652.5" x2="1083.5" y2="646.9" stroke="#2b2b2b" stroke-width="0.9"/>
<line x1="1085.4" y1="652.5" x2="1090.4" y2="646.9" stroke="#2b2b2b" stroke-width="0.9"/>
<line x1="1092.3" y1="652.5" x2="1097.3" y2="646.9" stroke="#2b2b2b" stroke-width="0.9"/>
<line x1="1099.2" y1="652.5" x2="1104.2" y2="646.9" stroke="#2b2b2b" stroke-width="0.9"/>
<line x1="1106.1" y1="652.5" x2="1111.1" y2="646.9" stroke="#2b2b2b" stroke-width="0.9"/>
<line x1="1113.0" y1="652.5" x2="1118.0" y2="646.9" stroke="#2b2b2b" stroke-width="0.9"/>
<line x1="1058.8" y1="624.5" x2="1132.5" y2="624.5" stroke="#2b2b2b" stroke-width="0.9"/>
<line x1="1058.8" y1="641.5" x2="1132.5" y2="641.5" stroke="#2b2b2b" stroke-width="0.9"/>
<rect x="1058.5" y="624.5" width="46.0" height="17.0" stroke="#2b2b2b" stroke-width="1.2" fill="#fff"/>
<rect x="1081.5" y="625.5" width="22.0" height="15.0" stroke="#2b2b2b" stroke-width="1.0" fill="url(#xp)"/>
<path d="M1103.8,625 Q1106,632.8 1103.8,640.8" stroke="#2b2b2b" stroke-width="1.1" fill="none"/>
<path d="M1059,628 L1057.5,628 L1057.5,638 L1059,638" stroke="#2b2b2b" stroke-width="0.9" fill="none"/>
<rect x="1063.5" y="627.5" width="8.0" height="7.0" stroke="#2b2b2b" stroke-width="1.0" fill="none"/>
<rect x="1064.5" y="628.5" width="3.0" height="3.0" stroke="#2b2b2b" stroke-width="0" fill="#333"/>
<polyline points="1071,630 1072,635 1075,635 1076,638 1079,638 1079,632 1074,632" stroke="#2b2b2b" stroke-width="1.0" fill="none"/>
<rect x="1074.5" y="637.5" width="4.0" height="3.0" stroke="#2b2b2b" stroke-width="1.0" fill="#555"/>
<path d="M1041,632.5 L1046.5,627.5 L1046.5,630 L1053,630 L1053,635 L1046.5,635 L1046.5,637.5 Z" stroke="#2b2b2b" stroke-width="1.1" fill="#fff"/>
<path d="M1115.6,633.3 L1121,628 L1121,630.5 L1127.5,630.5 L1127.5,636 L1121,636 L1121,638.5 Z" stroke="#2b2b2b" stroke-width="1.1" fill="#fff"/>
<text x="1045.6" y="598.8" font-size="12" textLength="34.4" lengthAdjust="spacingAndGlyphs" fill="#2b2b2b" text-anchor="start">Note (b)</text>
<line x1="1043" y1="601.5" x2="1081.3" y2="601.5" stroke="#2b2b2b" stroke-width="0.9"/>
<line x1="1081.3" y1="601" x2="1090" y2="624.4" stroke="#2b2b2b" stroke-width="0.9"/>
<text x="1013.8" y="625" font-size="12" textLength="16.8" lengthAdjust="spacingAndGlyphs" fill="#2b2b2b" text-anchor="start">Slab</text>
<line x1="1010.6" y1="627.5" x2="1036.9" y2="627.5" stroke="#2b2b2b" stroke-width="0.9"/>
<line x1="1036.9" y1="627.5" x2="1046" y2="618.5" stroke="#2b2b2b" stroke-width="0.9"/>
<text x="1006.3" y="661.9" font-size="12" textLength="25.6" lengthAdjust="spacingAndGlyphs" fill="#2b2b2b" text-anchor="start">Ceiling</text>
<line x1="1002.5" y1="665.5" x2="1037.5" y2="665.5" stroke="#2b2b2b" stroke-width="0.9"/>
<line x1="1037.5" y1="665" x2="1047.5" y2="648" stroke="#2b2b2b" stroke-width="0.9"/>
<line x1="1081.5" y1="641.3" x2="1081.5" y2="675" stroke="#2b2b2b" stroke-width="0.9"/>
<line x1="1103.5" y1="641.3" x2="1103.5" y2="675" stroke="#2b2b2b" stroke-width="0.9"/>
<line x1="1081.3" y1="671.5" x2="1103.8" y2="671.5" stroke="#2b2b2b" stroke-width="0.9"/>
<polygon points="1084.3,670.5 1081.3,671.3 1084.3,672.0999999999999" stroke="#2b2b2b" stroke-width="0.6" fill="#2b2b2b"/>
<polygon points="1100.8,670.5 1103.8,671.3 1100.8,672.0999999999999" stroke="#2b2b2b" stroke-width="0.6" fill="#2b2b2b"/>
<text x="1086" y="669.1" font-size="10.8" textLength="12.7" lengthAdjust="spacingAndGlyphs" fill="#2b2b2b" text-anchor="start">370</text>
<line x1="1130.5" y1="601.3" x2="1130.5" y2="675" stroke="#2b2b2b" stroke-width="0.9"/>
<polygon points="1129.8,615.5 1130.6,618.5 1131.3999999999999,615.5" stroke="#2b2b2b" stroke-width="0.6" fill="#2b2b2b"/>
<polygon points="1129.8,627.4 1130.6,624.4 1131.3999999999999,627.4" stroke="#2b2b2b" stroke-width="0.6" fill="#2b2b2b"/>
<polygon points="1129.8,638.3 1130.6,641.3 1131.3999999999999,638.3" stroke="#2b2b2b" stroke-width="0.6" fill="#2b2b2b"/>
<polygon points="1129.8,649.9 1130.6,646.9 1131.3999999999999,649.9" stroke="#2b2b2b" stroke-width="0.6" fill="#2b2b2b"/>
<text transform="translate(1128.6,611) rotate(-90)" font-size="10.8" textLength="8.4" lengthAdjust="spacingAndGlyphs" fill="#2b2b2b">20</text>
<text transform="translate(1137.5,616.3) rotate(-90)" font-size="10.5" textLength="23.8" lengthAdjust="spacingAndGlyphs" fill="#2b2b2b">or more</text>
<text transform="translate(1128.6,663) rotate(-90)" font-size="10.8" textLength="8.6" lengthAdjust="spacingAndGlyphs" fill="#2b2b2b">20</text>
<text transform="translate(1137.5,675) rotate(-90)" font-size="10.5" textLength="24.4" lengthAdjust="spacingAndGlyphs" fill="#2b2b2b">or more</text>
<path d="M1057.9,767.5 L1110.8,767.5 L1146.5,709.5 L1139,709.5 L1105.5,747.6 L1081.2,747.6 L1091.6,724.2 L1085,724.2 Z" fill="url(#hp)" stroke="#222" stroke-width="1.1"/>
<path d="M1081.2,691 Q1092,688 1103,690 Q1115,692 1126,689.5 Q1134,688 1140,690.5 Q1148,696 1148.3,703 L1148.3,709 L1095,709 L1073,702 Z" stroke="#2b2b2b" stroke-width="1.1" fill="#fff"/>
<line x1="1073" y1="701.5" x2="1133" y2="701.5" stroke="#2b2b2b" stroke-width="1.3"/>
<line x1="1098.6" y1="702.8" x2="1133" y2="702.8" stroke="#111" stroke-width="2.2"/>
<line x1="1110" y1="701" x2="1117" y2="690.2" stroke="#2b2b2b" stroke-width="1.0"/>
<line x1="1130" y1="701" x2="1137" y2="690.3" stroke="#2b2b2b" stroke-width="1.0"/>
<line x1="1133" y1="701.5" x2="1140" y2="691.2" stroke="#2b2b2b" stroke-width="1.0"/>
<line x1="1136" y1="702" x2="1142.5" y2="692.5" stroke="#2b2b2b" stroke-width="1.0"/>
<line x1="1095" y1="704.5" x2="1148.3" y2="704.5" stroke="#2b2b2b" stroke-width="1.0"/>
<line x1="1095" y1="707.5" x2="1148.3" y2="707.5" stroke="#2b2b2b" stroke-width="1.0"/>
<line x1="1095" y1="709.5" x2="1148.3" y2="709.5" stroke="#2b2b2b" stroke-width="1.2"/>
<polyline points="1142,709.5 1136,720 1131,720" stroke="#2b2b2b" stroke-width="1.0" fill="none"/>
<line x1="1146" y1="709.5" x2="1139" y2="721" stroke="#2b2b2b" stroke-width="1.0"/>
<path d="M1073,702 L1077.2,723.4 L1091.6,723.4 L1095,709 L1095,704 Z" stroke="#2b2b2b" stroke-width="1.5" fill="#fff"/>
<circle cx="1082" cy="711" r="1.5" stroke="#2b2b2b" stroke-width="1.2" fill="none"/>
<circle cx="1087" cy="705.5" r="1.2" stroke="#2b2b2b" stroke-width="1.0" fill="none"/>
<circle cx="1089" cy="707" r="1.2" stroke="#2b2b2b" stroke-width="1.0" fill="none"/>
<line x1="1094.8" y1="709" x2="1093" y2="722" stroke="#2b2b2b" stroke-width="1.2"/>
<path d="M1091,728.6 L1112.4,728.6 L1124,710 L1102.6,710 Z" stroke="#2b2b2b" stroke-width="1.5" fill="#fff"/>
<path d="M1105.5,714.7 L1119.5,714.7 L1121.5,711.5" stroke="#2b2b2b" stroke-width="1.0" fill="none"/>
<path d="M1112.4,728.6 L1124,710 L1131.5,710 Q1134,716 1128,722 L1118,731.5 Z" stroke="#2b2b2b" stroke-width="1.1" fill="#fff"/>
<circle cx="1116.5" cy="728.5" r="4.8" stroke="#2b2b2b" stroke-width="1.1" fill="#fff"/>
<circle cx="1115.2" cy="730" r="3.4" stroke="#2b2b2b" stroke-width="1.0" fill="none"/>
<circle cx="1111.5" cy="733" r="2.6" stroke="#2b2b2b" stroke-width="1.1" fill="#fff"/>
<line x1="1081.2" y1="747.6" x2="1092.8" y2="732" stroke="#2b2b2b" stroke-width="0.9"/>
<line x1="1081.2" y1="747.6" x2="1107.8" y2="735.5" stroke="#2b2b2b" stroke-width="0.9"/>
<line x1="1092.8" y1="732" x2="1098" y2="741" stroke="#2b2b2b" stroke-width="0.9"/>
<path d="M1094,750 L1100,750 L1100,746 L1106.6,744.7 L1103,749 L1104,751 L1096.5,757.5 L1094,757.5 Z" stroke="#2b2b2b" stroke-width="1.0" fill="#fff"/>
<text x="1038" y="683.4" font-size="12.2" textLength="31.5" lengthAdjust="spacingAndGlyphs" fill="#2b2b2b" text-anchor="start">Pipe (c)</text>
<line x1="1035.4" y1="685.5" x2="1072.8" y2="685.5" stroke="#2b2b2b" stroke-width="0.9"/>
<line x1="1072.8" y1="685.4" x2="1095.6" y2="700.8" stroke="#2b2b2b" stroke-width="0.9"/>
<text x="1034.7" y="700.8" font-size="12.2" textLength="28.8" lengthAdjust="spacingAndGlyphs" fill="#2b2b2b" text-anchor="start">Fan unit</text>
<line x1="1032" y1="703.5" x2="1071.5" y2="703.5" stroke="#2b2b2b" stroke-width="0.9"/>
<line x1="1071.5" y1="703" x2="1091.6" y2="718.2" stroke="#2b2b2b" stroke-width="0.9"/>
<text x="1117" y="773.7" font-size="12.2" textLength="34.0" lengthAdjust="spacingAndGlyphs" fill="#2b2b2b" text-anchor="start">Note (a)</text>
<line x1="1115.7" y1="776.5" x2="1154" y2="776.5" stroke="#2b2b2b" stroke-width="0.9"/>
<line x1="1115.7" y1="776.4" x2="1109" y2="757" stroke="#2b2b2b" stroke-width="0.9"/>
<text x="845.5" y="720" font-size="12.2" textLength="40.5" lengthAdjust="spacingAndGlyphs" fill="#2b2b2b" text-anchor="start">Notes (a)</text>
<text x="892.6" y="720" font-size="12.2" textLength="146.4" lengthAdjust="spacingAndGlyphs" fill="#2b2b2b" text-anchor="start">There must not be obstacle to draw</text>
<text x="892.6" y="731" font-size="12.2" textLength="175.8" lengthAdjust="spacingAndGlyphs" fill="#2b2b2b" text-anchor="start">out 2 fan units. For fan units maintenance,</text>
<text x="892.6" y="742.2" font-size="12.2" textLength="112.8" lengthAdjust="spacingAndGlyphs" fill="#2b2b2b" text-anchor="start">refer to the service manual.</text>
<text x="874" y="754.5" font-size="12.2" textLength="14.4" lengthAdjust="spacingAndGlyphs" fill="#2b2b2b" text-anchor="start">(b)</text>
<text x="892.6" y="754.5" font-size="12.2" textLength="97.8" lengthAdjust="spacingAndGlyphs" fill="#2b2b2b" text-anchor="start">Install refrigerant pipes,</text>
<text x="892.6" y="765.6" font-size="12.2" textLength="107.4" lengthAdjust="spacingAndGlyphs" fill="#2b2b2b" text-anchor="start">drain pipe,and wiring so as</text>
<text x="892.6" y="776.8" font-size="12.2" textLength="49.9" lengthAdjust="spacingAndGlyphs" fill="#2b2b2b" text-anchor="start">not to cross</text>
<rect x="946.5" y="769.5" width="17.0" height="6.0" stroke="#2b2b2b" stroke-width="0.9" fill="url(#xp)"/>
<text x="965.5" y="776.8" font-size="12.2" textLength="52.5" lengthAdjust="spacingAndGlyphs" fill="#2b2b2b" text-anchor="start">marked area.</text>
<text x="874" y="789" font-size="12.2" textLength="14.4" lengthAdjust="spacingAndGlyphs" fill="#2b2b2b" text-anchor="start">(c)</text>
<text x="892.6" y="789" font-size="12.2" textLength="264.9" lengthAdjust="spacingAndGlyphs" fill="#2b2b2b" text-anchor="start">The case that pipes are installed to upper (bottom) of fan unit,</text>
<text x="892.6" y="801.5" font-size="12.2" textLength="232.8" lengthAdjust="spacingAndGlyphs" fill="#2b2b2b" text-anchor="start">keep space of 60mm or more to upper (bottom) of unit.</text>
</svg>
<svg class="ttl" width="1200" height="60" viewBox="0 0 1200 60" fill="none">
<text x="30.5" y="41.2" font-size="18.8" textLength="280.0" lengthAdjust="spacingAndGlyphs" font-weight="bold" fill="#899aa0" text-anchor="start">Models FDU100VH,125VH,140VH</text>
</svg></body></html>
